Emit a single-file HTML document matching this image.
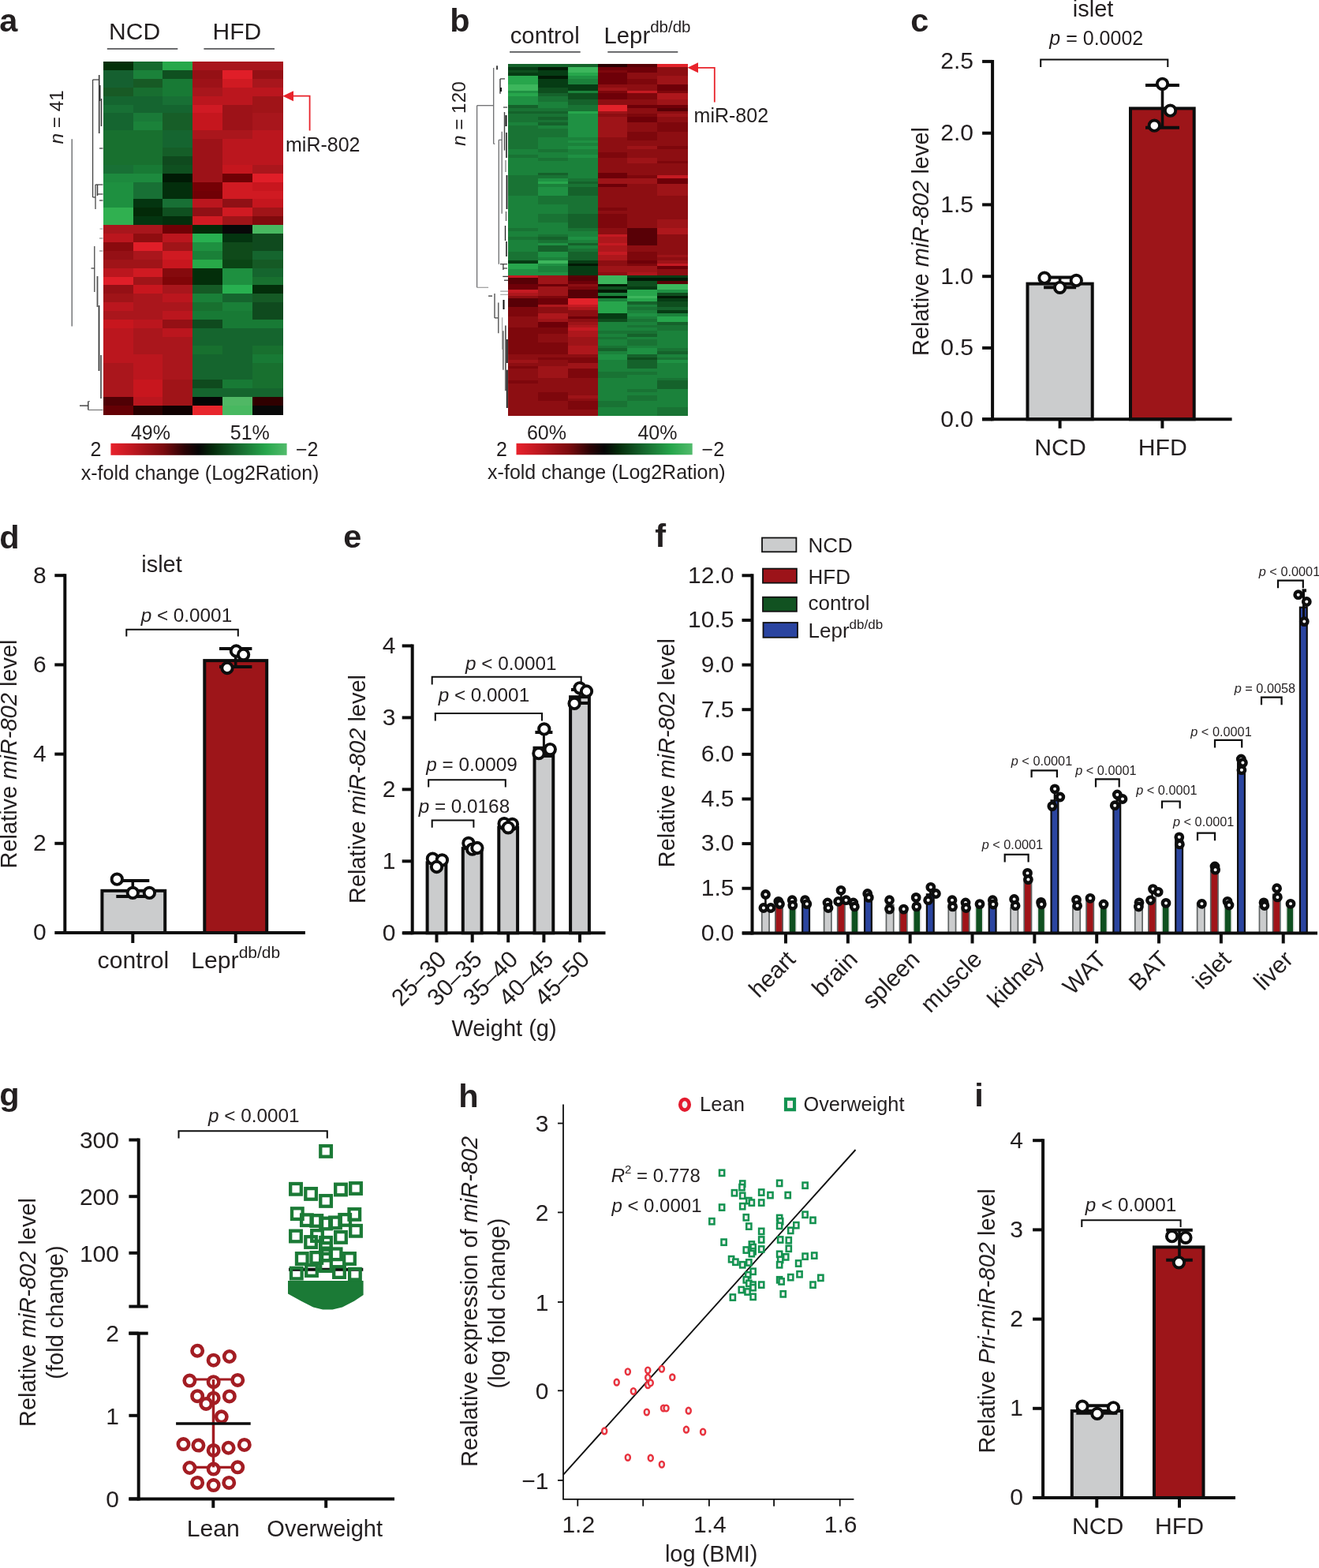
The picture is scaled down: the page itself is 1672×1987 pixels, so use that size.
<!DOCTYPE html>
<html><head><meta charset="utf-8"><title>Figure</title>
<style>html,body{margin:0;padding:0;background:#fff;}svg{display:block;}
text{font-family:"Liberation Sans",sans-serif;fill:#231f20;}</style></head>
<body><svg width="1672" height="1987" viewBox="0 0 1672 1987">
<rect width="1672" height="1987" fill="#fff"/>
<g shape-rendering="crispEdges">
<rect x="130.7" y="78" width="38.48" height="11.5" fill="#033008"/>
<rect x="168.58" y="78" width="38.48" height="11.5" fill="#156a2e"/>
<rect x="206.47" y="78" width="38.48" height="11.5" fill="#27a84a"/>
<rect x="244.35" y="78" width="38.48" height="11.5" fill="#a8161c"/>
<rect x="282.23" y="78" width="38.48" height="11.5" fill="#a8161c"/>
<rect x="320.12" y="78" width="38.48" height="11.5" fill="#a8161c"/>
<rect x="130.7" y="88.9" width="38.48" height="11.5" fill="#156030"/>
<rect x="168.58" y="88.9" width="38.48" height="11.5" fill="#1b823a"/>
<rect x="206.47" y="88.9" width="38.48" height="11.5" fill="#0f5020"/>
<rect x="244.35" y="88.9" width="38.48" height="11.5" fill="#951015"/>
<rect x="282.23" y="88.9" width="38.48" height="11.5" fill="#e01e28"/>
<rect x="320.12" y="88.9" width="38.48" height="11.5" fill="#951015"/>
<rect x="130.7" y="99.8" width="38.48" height="11.5" fill="#156030"/>
<rect x="168.58" y="99.8" width="38.48" height="11.5" fill="#175a25"/>
<rect x="206.47" y="99.8" width="38.48" height="11.5" fill="#187a35"/>
<rect x="244.35" y="99.8" width="38.48" height="11.5" fill="#9d1218"/>
<rect x="282.23" y="99.8" width="38.48" height="11.5" fill="#d01a22"/>
<rect x="320.12" y="99.8" width="38.48" height="11.5" fill="#a8161c"/>
<rect x="130.7" y="110.71" width="38.48" height="11.5" fill="#185a25"/>
<rect x="168.58" y="110.71" width="38.48" height="11.5" fill="#186e30"/>
<rect x="206.47" y="110.71" width="38.48" height="11.5" fill="#187a35"/>
<rect x="244.35" y="110.71" width="38.48" height="11.5" fill="#a8161c"/>
<rect x="282.23" y="110.71" width="38.48" height="11.5" fill="#bb161e"/>
<rect x="320.12" y="110.71" width="38.48" height="11.5" fill="#bb161e"/>
<rect x="130.7" y="121.61" width="38.48" height="11.5" fill="#156530"/>
<rect x="168.58" y="121.61" width="38.48" height="11.5" fill="#156530"/>
<rect x="206.47" y="121.61" width="38.48" height="11.5" fill="#187035"/>
<rect x="244.35" y="121.61" width="38.48" height="11.5" fill="#bb161e"/>
<rect x="282.23" y="121.61" width="38.48" height="11.5" fill="#bb161e"/>
<rect x="320.12" y="121.61" width="38.48" height="11.5" fill="#a01418"/>
<rect x="130.7" y="132.51" width="38.48" height="11.5" fill="#187035"/>
<rect x="168.58" y="132.51" width="38.48" height="11.5" fill="#156530"/>
<rect x="206.47" y="132.51" width="38.48" height="11.5" fill="#156530"/>
<rect x="244.35" y="132.51" width="38.48" height="11.5" fill="#d01a24"/>
<rect x="282.23" y="132.51" width="38.48" height="11.5" fill="#9d1218"/>
<rect x="320.12" y="132.51" width="38.48" height="11.5" fill="#a01418"/>
<rect x="130.7" y="143.41" width="38.48" height="11.5" fill="#156530"/>
<rect x="168.58" y="143.41" width="38.48" height="11.5" fill="#1a7a38"/>
<rect x="206.47" y="143.41" width="38.48" height="11.5" fill="#175e28"/>
<rect x="244.35" y="143.41" width="38.48" height="11.5" fill="#c5161e"/>
<rect x="282.23" y="143.41" width="38.48" height="11.5" fill="#9d1218"/>
<rect x="320.12" y="143.41" width="38.48" height="11.5" fill="#a8161c"/>
<rect x="130.7" y="154.32" width="38.48" height="11.5" fill="#156530"/>
<rect x="168.58" y="154.32" width="38.48" height="11.5" fill="#1b823a"/>
<rect x="206.47" y="154.32" width="38.48" height="11.5" fill="#175e28"/>
<rect x="244.35" y="154.32" width="38.48" height="11.5" fill="#c5161e"/>
<rect x="282.23" y="154.32" width="38.48" height="11.5" fill="#9d1218"/>
<rect x="320.12" y="154.32" width="38.48" height="11.5" fill="#a8161c"/>
<rect x="130.7" y="165.22" width="38.48" height="11.5" fill="#18702f"/>
<rect x="168.58" y="165.22" width="38.48" height="11.5" fill="#18702f"/>
<rect x="206.47" y="165.22" width="38.48" height="11.5" fill="#156530"/>
<rect x="244.35" y="165.22" width="38.48" height="11.5" fill="#aa161c"/>
<rect x="282.23" y="165.22" width="38.48" height="11.5" fill="#aa161c"/>
<rect x="320.12" y="165.22" width="38.48" height="11.5" fill="#bb161e"/>
<rect x="130.7" y="176.12" width="38.48" height="11.5" fill="#18702f"/>
<rect x="168.58" y="176.12" width="38.48" height="11.5" fill="#18702f"/>
<rect x="206.47" y="176.12" width="38.48" height="11.5" fill="#156530"/>
<rect x="244.35" y="176.12" width="38.48" height="11.5" fill="#9d1218"/>
<rect x="282.23" y="176.12" width="38.48" height="11.5" fill="#bb161e"/>
<rect x="320.12" y="176.12" width="38.48" height="11.5" fill="#bb161e"/>
<rect x="130.7" y="187.02" width="38.48" height="11.5" fill="#18702f"/>
<rect x="168.58" y="187.02" width="38.48" height="11.5" fill="#18702f"/>
<rect x="206.47" y="187.02" width="38.48" height="11.5" fill="#155e28"/>
<rect x="244.35" y="187.02" width="38.48" height="11.5" fill="#9d1218"/>
<rect x="282.23" y="187.02" width="38.48" height="11.5" fill="#bb161e"/>
<rect x="320.12" y="187.02" width="38.48" height="11.5" fill="#bb161e"/>
<rect x="130.7" y="197.93" width="38.48" height="11.5" fill="#18702f"/>
<rect x="168.58" y="197.93" width="38.48" height="11.5" fill="#18702f"/>
<rect x="206.47" y="197.93" width="38.48" height="11.5" fill="#0f4a1e"/>
<rect x="244.35" y="197.93" width="38.48" height="11.5" fill="#9d1218"/>
<rect x="282.23" y="197.93" width="38.48" height="11.5" fill="#bb161e"/>
<rect x="320.12" y="197.93" width="38.48" height="11.5" fill="#bb161e"/>
<rect x="130.7" y="208.83" width="38.48" height="11.5" fill="#187035"/>
<rect x="168.58" y="208.83" width="38.48" height="11.5" fill="#187a35"/>
<rect x="206.47" y="208.83" width="38.48" height="11.5" fill="#0f5020"/>
<rect x="244.35" y="208.83" width="38.48" height="11.5" fill="#9d1218"/>
<rect x="282.23" y="208.83" width="38.48" height="11.5" fill="#c5161e"/>
<rect x="320.12" y="208.83" width="38.48" height="11.5" fill="#aa161c"/>
<rect x="130.7" y="219.73" width="38.48" height="11.5" fill="#1d8a3e"/>
<rect x="168.58" y="219.73" width="38.48" height="11.5" fill="#1d8a3e"/>
<rect x="206.47" y="219.73" width="38.48" height="11.5" fill="#001a05"/>
<rect x="244.35" y="219.73" width="38.48" height="11.5" fill="#9d1218"/>
<rect x="282.23" y="219.73" width="38.48" height="11.5" fill="#700005"/>
<rect x="320.12" y="219.73" width="38.48" height="11.5" fill="#e01e28"/>
<rect x="130.7" y="230.63" width="38.48" height="11.5" fill="#1e9040"/>
<rect x="168.58" y="230.63" width="38.48" height="11.5" fill="#187035"/>
<rect x="206.47" y="230.63" width="38.48" height="11.5" fill="#032e0c"/>
<rect x="244.35" y="230.63" width="38.48" height="11.5" fill="#750005"/>
<rect x="282.23" y="230.63" width="38.48" height="11.5" fill="#d01a22"/>
<rect x="320.12" y="230.63" width="38.48" height="11.5" fill="#c8161e"/>
<rect x="130.7" y="241.54" width="38.48" height="11.5" fill="#1e9040"/>
<rect x="168.58" y="241.54" width="38.48" height="11.5" fill="#187035"/>
<rect x="206.47" y="241.54" width="38.48" height="11.5" fill="#032e0c"/>
<rect x="244.35" y="241.54" width="38.48" height="11.5" fill="#700005"/>
<rect x="282.23" y="241.54" width="38.48" height="11.5" fill="#d01a22"/>
<rect x="320.12" y="241.54" width="38.48" height="11.5" fill="#d01a22"/>
<rect x="130.7" y="252.44" width="38.48" height="11.5" fill="#1e9040"/>
<rect x="168.58" y="252.44" width="38.48" height="11.5" fill="#043510"/>
<rect x="206.47" y="252.44" width="38.48" height="11.5" fill="#187035"/>
<rect x="244.35" y="252.44" width="38.48" height="11.5" fill="#bb161e"/>
<rect x="282.23" y="252.44" width="38.48" height="11.5" fill="#901015"/>
<rect x="320.12" y="252.44" width="38.48" height="11.5" fill="#c5161e"/>
<rect x="130.7" y="263.34" width="38.48" height="11.5" fill="#30b050"/>
<rect x="168.58" y="263.34" width="38.48" height="11.5" fill="#032a08"/>
<rect x="206.47" y="263.34" width="38.48" height="11.5" fill="#0f5020"/>
<rect x="244.35" y="263.34" width="38.48" height="11.5" fill="#901015"/>
<rect x="282.23" y="263.34" width="38.48" height="11.5" fill="#d01a22"/>
<rect x="320.12" y="263.34" width="38.48" height="11.5" fill="#a01418"/>
<rect x="130.7" y="274.24" width="38.48" height="11.5" fill="#30b050"/>
<rect x="168.58" y="274.24" width="38.48" height="11.5" fill="#043510"/>
<rect x="206.47" y="274.24" width="38.48" height="11.5" fill="#032e0c"/>
<rect x="244.35" y="274.24" width="38.48" height="11.5" fill="#d01a22"/>
<rect x="282.23" y="274.24" width="38.48" height="11.5" fill="#a01418"/>
<rect x="320.12" y="274.24" width="38.48" height="11.5" fill="#800a0d"/>
<rect x="130.7" y="285.15" width="38.48" height="11.5" fill="#a8161c"/>
<rect x="168.58" y="285.15" width="38.48" height="11.5" fill="#a8161c"/>
<rect x="206.47" y="285.15" width="38.48" height="11.5" fill="#700005"/>
<rect x="244.35" y="285.15" width="38.48" height="11.5" fill="#032a08"/>
<rect x="282.23" y="285.15" width="38.48" height="11.5" fill="#080808"/>
<rect x="320.12" y="285.15" width="38.48" height="11.5" fill="#48b860"/>
<rect x="130.7" y="296.05" width="38.48" height="11.5" fill="#bb161e"/>
<rect x="168.58" y="296.05" width="38.48" height="11.5" fill="#8f0d10"/>
<rect x="206.47" y="296.05" width="38.48" height="11.5" fill="#bb161e"/>
<rect x="244.35" y="296.05" width="38.48" height="11.5" fill="#28b050"/>
<rect x="282.23" y="296.05" width="38.48" height="11.5" fill="#043510"/>
<rect x="320.12" y="296.05" width="38.48" height="11.5" fill="#0f4a1e"/>
<rect x="130.7" y="306.95" width="38.48" height="11.5" fill="#8a0a0e"/>
<rect x="168.58" y="306.95" width="38.48" height="11.5" fill="#e01e28"/>
<rect x="206.47" y="306.95" width="38.48" height="11.5" fill="#a01418"/>
<rect x="244.35" y="306.95" width="38.48" height="11.5" fill="#1e9040"/>
<rect x="282.23" y="306.95" width="38.48" height="11.5" fill="#0f4a1a"/>
<rect x="320.12" y="306.95" width="38.48" height="11.5" fill="#0f4a1e"/>
<rect x="130.7" y="317.85" width="38.48" height="11.5" fill="#951015"/>
<rect x="168.58" y="317.85" width="38.48" height="11.5" fill="#aa161c"/>
<rect x="206.47" y="317.85" width="38.48" height="11.5" fill="#d01a22"/>
<rect x="244.35" y="317.85" width="38.48" height="11.5" fill="#1a8038"/>
<rect x="282.23" y="317.85" width="38.48" height="11.5" fill="#0f4a1a"/>
<rect x="320.12" y="317.85" width="38.48" height="11.5" fill="#15652e"/>
<rect x="130.7" y="328.76" width="38.48" height="11.5" fill="#a01418"/>
<rect x="168.58" y="328.76" width="38.48" height="11.5" fill="#a01418"/>
<rect x="206.47" y="328.76" width="38.48" height="11.5" fill="#c8161e"/>
<rect x="244.35" y="328.76" width="38.48" height="11.5" fill="#28a848"/>
<rect x="282.23" y="328.76" width="38.48" height="11.5" fill="#0a4515"/>
<rect x="320.12" y="328.76" width="38.48" height="11.5" fill="#155a25"/>
<rect x="130.7" y="339.66" width="38.48" height="11.5" fill="#bb161e"/>
<rect x="168.58" y="339.66" width="38.48" height="11.5" fill="#d01a22"/>
<rect x="206.47" y="339.66" width="38.48" height="11.5" fill="#850a0d"/>
<rect x="244.35" y="339.66" width="38.48" height="11.5" fill="#032e0a"/>
<rect x="282.23" y="339.66" width="38.48" height="11.5" fill="#1e9040"/>
<rect x="320.12" y="339.66" width="38.48" height="11.5" fill="#15652e"/>
<rect x="130.7" y="350.56" width="38.48" height="11.5" fill="#e01e28"/>
<rect x="168.58" y="350.56" width="38.48" height="11.5" fill="#a01418"/>
<rect x="206.47" y="350.56" width="38.48" height="11.5" fill="#800508"/>
<rect x="244.35" y="350.56" width="38.48" height="11.5" fill="#032e0a"/>
<rect x="282.23" y="350.56" width="38.48" height="11.5" fill="#1e9040"/>
<rect x="320.12" y="350.56" width="38.48" height="11.5" fill="#18702f"/>
<rect x="130.7" y="361.46" width="38.48" height="11.5" fill="#951015"/>
<rect x="168.58" y="361.46" width="38.48" height="11.5" fill="#c8161e"/>
<rect x="206.47" y="361.46" width="38.48" height="11.5" fill="#a8161c"/>
<rect x="244.35" y="361.46" width="38.48" height="11.5" fill="#155a25"/>
<rect x="282.23" y="361.46" width="38.48" height="11.5" fill="#28b050"/>
<rect x="320.12" y="361.46" width="38.48" height="11.5" fill="#032e0a"/>
<rect x="130.7" y="372.37" width="38.48" height="11.5" fill="#a01418"/>
<rect x="168.58" y="372.37" width="38.48" height="11.5" fill="#aa161c"/>
<rect x="206.47" y="372.37" width="38.48" height="11.5" fill="#bb161e"/>
<rect x="244.35" y="372.37" width="38.48" height="11.5" fill="#1a8038"/>
<rect x="282.23" y="372.37" width="38.48" height="11.5" fill="#15652e"/>
<rect x="320.12" y="372.37" width="38.48" height="11.5" fill="#155a25"/>
<rect x="130.7" y="383.27" width="38.48" height="11.5" fill="#bb161e"/>
<rect x="168.58" y="383.27" width="38.48" height="11.5" fill="#aa161c"/>
<rect x="206.47" y="383.27" width="38.48" height="11.5" fill="#aa161c"/>
<rect x="244.35" y="383.27" width="38.48" height="11.5" fill="#18702f"/>
<rect x="282.23" y="383.27" width="38.48" height="11.5" fill="#1a8038"/>
<rect x="320.12" y="383.27" width="38.48" height="11.5" fill="#0f4a1e"/>
<rect x="130.7" y="394.17" width="38.48" height="11.5" fill="#aa161c"/>
<rect x="168.58" y="394.17" width="38.48" height="11.5" fill="#aa161c"/>
<rect x="206.47" y="394.17" width="38.48" height="11.5" fill="#bb161e"/>
<rect x="244.35" y="394.17" width="38.48" height="11.5" fill="#187a35"/>
<rect x="282.23" y="394.17" width="38.48" height="11.5" fill="#187a35"/>
<rect x="320.12" y="394.17" width="38.48" height="11.5" fill="#0f4a1e"/>
<rect x="130.7" y="405.07" width="38.48" height="11.5" fill="#c8161e"/>
<rect x="168.58" y="405.07" width="38.48" height="11.5" fill="#bb161e"/>
<rect x="206.47" y="405.07" width="38.48" height="11.5" fill="#951015"/>
<rect x="244.35" y="405.07" width="38.48" height="11.5" fill="#0f4a1e"/>
<rect x="282.23" y="405.07" width="38.48" height="11.5" fill="#187a35"/>
<rect x="320.12" y="405.07" width="38.48" height="11.5" fill="#187a35"/>
<rect x="130.7" y="415.98" width="38.48" height="11.5" fill="#bb161e"/>
<rect x="168.58" y="415.98" width="38.48" height="11.5" fill="#aa161c"/>
<rect x="206.47" y="415.98" width="38.48" height="11.5" fill="#bb161e"/>
<rect x="244.35" y="415.98" width="38.48" height="11.5" fill="#15652e"/>
<rect x="282.23" y="415.98" width="38.48" height="11.5" fill="#15652e"/>
<rect x="320.12" y="415.98" width="38.48" height="11.5" fill="#15652e"/>
<rect x="130.7" y="426.88" width="38.48" height="11.5" fill="#bb161e"/>
<rect x="168.58" y="426.88" width="38.48" height="11.5" fill="#aa161c"/>
<rect x="206.47" y="426.88" width="38.48" height="11.5" fill="#aa161c"/>
<rect x="244.35" y="426.88" width="38.48" height="11.5" fill="#15652e"/>
<rect x="282.23" y="426.88" width="38.48" height="11.5" fill="#15652e"/>
<rect x="320.12" y="426.88" width="38.48" height="11.5" fill="#15652e"/>
<rect x="130.7" y="437.78" width="38.48" height="11.5" fill="#bb161e"/>
<rect x="168.58" y="437.78" width="38.48" height="11.5" fill="#aa161c"/>
<rect x="206.47" y="437.78" width="38.48" height="11.5" fill="#aa161c"/>
<rect x="244.35" y="437.78" width="38.48" height="11.5" fill="#18702f"/>
<rect x="282.23" y="437.78" width="38.48" height="11.5" fill="#15652e"/>
<rect x="320.12" y="437.78" width="38.48" height="11.5" fill="#18702f"/>
<rect x="130.7" y="448.68" width="38.48" height="11.5" fill="#bb161e"/>
<rect x="168.58" y="448.68" width="38.48" height="11.5" fill="#bb161e"/>
<rect x="206.47" y="448.68" width="38.48" height="11.5" fill="#aa161c"/>
<rect x="244.35" y="448.68" width="38.48" height="11.5" fill="#15652e"/>
<rect x="282.23" y="448.68" width="38.48" height="11.5" fill="#15652e"/>
<rect x="320.12" y="448.68" width="38.48" height="11.5" fill="#187a35"/>
<rect x="130.7" y="459.59" width="38.48" height="11.5" fill="#aa161c"/>
<rect x="168.58" y="459.59" width="38.48" height="11.5" fill="#bb161e"/>
<rect x="206.47" y="459.59" width="38.48" height="11.5" fill="#aa161c"/>
<rect x="244.35" y="459.59" width="38.48" height="11.5" fill="#15652e"/>
<rect x="282.23" y="459.59" width="38.48" height="11.5" fill="#15652e"/>
<rect x="320.12" y="459.59" width="38.48" height="11.5" fill="#18702f"/>
<rect x="130.7" y="470.49" width="38.48" height="11.5" fill="#aa161c"/>
<rect x="168.58" y="470.49" width="38.48" height="11.5" fill="#bb161e"/>
<rect x="206.47" y="470.49" width="38.48" height="11.5" fill="#aa161c"/>
<rect x="244.35" y="470.49" width="38.48" height="11.5" fill="#15652e"/>
<rect x="282.23" y="470.49" width="38.48" height="11.5" fill="#15652e"/>
<rect x="320.12" y="470.49" width="38.48" height="11.5" fill="#18702f"/>
<rect x="130.7" y="481.39" width="38.48" height="11.5" fill="#aa161c"/>
<rect x="168.58" y="481.39" width="38.48" height="11.5" fill="#c8161e"/>
<rect x="206.47" y="481.39" width="38.48" height="11.5" fill="#a01418"/>
<rect x="244.35" y="481.39" width="38.48" height="11.5" fill="#0f4a1e"/>
<rect x="282.23" y="481.39" width="38.48" height="11.5" fill="#187a35"/>
<rect x="320.12" y="481.39" width="38.48" height="11.5" fill="#18702f"/>
<rect x="130.7" y="492.29" width="38.48" height="11.5" fill="#aa161c"/>
<rect x="168.58" y="492.29" width="38.48" height="11.5" fill="#c8161e"/>
<rect x="206.47" y="492.29" width="38.48" height="11.5" fill="#a01418"/>
<rect x="244.35" y="492.29" width="38.48" height="11.5" fill="#15652e"/>
<rect x="282.23" y="492.29" width="38.48" height="11.5" fill="#15652e"/>
<rect x="320.12" y="492.29" width="38.48" height="11.5" fill="#15652e"/>
<rect x="130.7" y="503.2" width="38.48" height="11.5" fill="#500005"/>
<rect x="168.58" y="503.2" width="38.48" height="11.5" fill="#bb161e"/>
<rect x="206.47" y="503.2" width="38.48" height="11.5" fill="#a01418"/>
<rect x="244.35" y="503.2" width="38.48" height="11.5" fill="#050505"/>
<rect x="282.23" y="503.2" width="38.48" height="11.5" fill="#50b865"/>
<rect x="320.12" y="503.2" width="38.48" height="11.5" fill="#300000"/>
<rect x="130.7" y="514.1" width="38.48" height="11.5" fill="#650005"/>
<rect x="168.58" y="514.1" width="38.48" height="11.5" fill="#2a0000"/>
<rect x="206.47" y="514.1" width="38.48" height="11.5" fill="#100000"/>
<rect x="244.35" y="514.1" width="38.48" height="11.5" fill="#e8262c"/>
<rect x="282.23" y="514.1" width="38.48" height="11.5" fill="#48b860"/>
<rect x="320.12" y="514.1" width="38.48" height="11.5" fill="#080808"/>
</g>
<g shape-rendering="crispEdges">
<rect x="644" y="81.1" width="38.47" height="4.31" fill="#15622b"/>
<rect x="681.87" y="81.1" width="38.47" height="4.31" fill="#15622b"/>
<rect x="719.73" y="81.1" width="38.47" height="4.31" fill="#15622b"/>
<rect x="757.6" y="81.1" width="38.47" height="4.31" fill="#2a0002"/>
<rect x="795.47" y="81.1" width="38.47" height="4.31" fill="#580006"/>
<rect x="833.33" y="81.1" width="38.47" height="4.31" fill="#e2222a"/>
<rect x="644" y="84.81" width="38.47" height="4.31" fill="#063c14"/>
<rect x="681.87" y="84.81" width="38.47" height="4.31" fill="#021a06"/>
<rect x="719.73" y="84.81" width="38.47" height="4.31" fill="#3cb65c"/>
<rect x="757.6" y="84.81" width="38.47" height="4.31" fill="#6e0008"/>
<rect x="795.47" y="84.81" width="38.47" height="4.31" fill="#6e0008"/>
<rect x="833.33" y="84.81" width="38.47" height="4.31" fill="#8d0e12"/>
<rect x="644" y="88.53" width="38.47" height="4.31" fill="#0e4e1e"/>
<rect x="681.87" y="88.53" width="38.47" height="4.31" fill="#063c14"/>
<rect x="719.73" y="88.53" width="38.47" height="4.31" fill="#3cb65c"/>
<rect x="757.6" y="88.53" width="38.47" height="4.31" fill="#7e070c"/>
<rect x="795.47" y="88.53" width="38.47" height="4.31" fill="#6e0008"/>
<rect x="833.33" y="88.53" width="38.47" height="4.31" fill="#8d0e12"/>
<rect x="644" y="92.24" width="38.47" height="4.31" fill="#063c14"/>
<rect x="681.87" y="92.24" width="38.47" height="4.31" fill="#063c14"/>
<rect x="719.73" y="92.24" width="38.47" height="4.31" fill="#27a64c"/>
<rect x="757.6" y="92.24" width="38.47" height="4.31" fill="#6e0008"/>
<rect x="795.47" y="92.24" width="38.47" height="4.31" fill="#8d0e12"/>
<rect x="833.33" y="92.24" width="38.47" height="4.31" fill="#8d0e12"/>
<rect x="644" y="95.96" width="38.47" height="4.31" fill="#27a64c"/>
<rect x="681.87" y="95.96" width="38.47" height="4.31" fill="#021a06"/>
<rect x="719.73" y="95.96" width="38.47" height="4.31" fill="#1f9143"/>
<rect x="757.6" y="95.96" width="38.47" height="4.31" fill="#6e0008"/>
<rect x="795.47" y="95.96" width="38.47" height="4.31" fill="#8d0e12"/>
<rect x="833.33" y="95.96" width="38.47" height="4.31" fill="#9e1418"/>
<rect x="644" y="99.67" width="38.47" height="4.31" fill="#27a64c"/>
<rect x="681.87" y="99.67" width="38.47" height="4.31" fill="#063c14"/>
<rect x="719.73" y="99.67" width="38.47" height="4.31" fill="#1b823b"/>
<rect x="757.6" y="99.67" width="38.47" height="4.31" fill="#6e0008"/>
<rect x="795.47" y="99.67" width="38.47" height="4.31" fill="#7e070c"/>
<rect x="833.33" y="99.67" width="38.47" height="4.31" fill="#9e1418"/>
<rect x="644" y="103.38" width="38.47" height="4.31" fill="#27a64c"/>
<rect x="681.87" y="103.38" width="38.47" height="4.31" fill="#063c14"/>
<rect x="719.73" y="103.38" width="38.47" height="4.31" fill="#1b823b"/>
<rect x="757.6" y="103.38" width="38.47" height="4.31" fill="#6e0008"/>
<rect x="795.47" y="103.38" width="38.47" height="4.31" fill="#7e070c"/>
<rect x="833.33" y="103.38" width="38.47" height="4.31" fill="#9e1418"/>
<rect x="644" y="107.1" width="38.47" height="4.31" fill="#3cb65c"/>
<rect x="681.87" y="107.1" width="38.47" height="4.31" fill="#063c14"/>
<rect x="719.73" y="107.1" width="38.47" height="4.31" fill="#063c14"/>
<rect x="757.6" y="107.1" width="38.47" height="4.31" fill="#8d0e12"/>
<rect x="795.47" y="107.1" width="38.47" height="4.31" fill="#8d0e12"/>
<rect x="833.33" y="107.1" width="38.47" height="4.31" fill="#6e0008"/>
<rect x="644" y="110.81" width="38.47" height="4.31" fill="#3cb65c"/>
<rect x="681.87" y="110.81" width="38.47" height="4.31" fill="#0e4e1e"/>
<rect x="719.73" y="110.81" width="38.47" height="4.31" fill="#063c14"/>
<rect x="757.6" y="110.81" width="38.47" height="4.31" fill="#9e1418"/>
<rect x="795.47" y="110.81" width="38.47" height="4.31" fill="#8d0e12"/>
<rect x="833.33" y="110.81" width="38.47" height="4.31" fill="#6e0008"/>
<rect x="644" y="114.53" width="38.47" height="4.31" fill="#1f9143"/>
<rect x="681.87" y="114.53" width="38.47" height="4.31" fill="#0e4e1e"/>
<rect x="719.73" y="114.53" width="38.47" height="4.31" fill="#1b823b"/>
<rect x="757.6" y="114.53" width="38.47" height="4.31" fill="#7e070c"/>
<rect x="795.47" y="114.53" width="38.47" height="4.31" fill="#c41a22"/>
<rect x="833.33" y="114.53" width="38.47" height="4.31" fill="#7e070c"/>
<rect x="644" y="118.24" width="38.47" height="4.31" fill="#27a64c"/>
<rect x="681.87" y="118.24" width="38.47" height="4.31" fill="#15622b"/>
<rect x="719.73" y="118.24" width="38.47" height="4.31" fill="#0e4e1e"/>
<rect x="757.6" y="118.24" width="38.47" height="4.31" fill="#6e0008"/>
<rect x="795.47" y="118.24" width="38.47" height="4.31" fill="#7e070c"/>
<rect x="833.33" y="118.24" width="38.47" height="4.31" fill="#ae171c"/>
<rect x="644" y="121.96" width="38.47" height="4.31" fill="#1f9143"/>
<rect x="681.87" y="121.96" width="38.47" height="4.31" fill="#197334"/>
<rect x="719.73" y="121.96" width="38.47" height="4.31" fill="#0e4e1e"/>
<rect x="757.6" y="121.96" width="38.47" height="4.31" fill="#6e0008"/>
<rect x="795.47" y="121.96" width="38.47" height="4.31" fill="#7e070c"/>
<rect x="833.33" y="121.96" width="38.47" height="4.31" fill="#ae171c"/>
<rect x="644" y="125.67" width="38.47" height="4.31" fill="#1f9143"/>
<rect x="681.87" y="125.67" width="38.47" height="4.31" fill="#197334"/>
<rect x="719.73" y="125.67" width="38.47" height="4.31" fill="#15622b"/>
<rect x="757.6" y="125.67" width="38.47" height="4.31" fill="#8d0e12"/>
<rect x="795.47" y="125.67" width="38.47" height="4.31" fill="#8d0e12"/>
<rect x="833.33" y="125.67" width="38.47" height="4.31" fill="#9e1418"/>
<rect x="644" y="129.38" width="38.47" height="4.31" fill="#1f9143"/>
<rect x="681.87" y="129.38" width="38.47" height="4.31" fill="#1b823b"/>
<rect x="719.73" y="129.38" width="38.47" height="4.31" fill="#15622b"/>
<rect x="757.6" y="129.38" width="38.47" height="4.31" fill="#8d0e12"/>
<rect x="795.47" y="129.38" width="38.47" height="4.31" fill="#8d0e12"/>
<rect x="833.33" y="129.38" width="38.47" height="4.31" fill="#9e1418"/>
<rect x="644" y="133.1" width="38.47" height="4.31" fill="#15622b"/>
<rect x="681.87" y="133.1" width="38.47" height="4.31" fill="#1b823b"/>
<rect x="719.73" y="133.1" width="38.47" height="4.31" fill="#197334"/>
<rect x="757.6" y="133.1" width="38.47" height="4.31" fill="#e2222a"/>
<rect x="795.47" y="133.1" width="38.47" height="4.31" fill="#6e0008"/>
<rect x="833.33" y="133.1" width="38.47" height="4.31" fill="#6e0008"/>
<rect x="644" y="136.81" width="38.47" height="4.31" fill="#197334"/>
<rect x="681.87" y="136.81" width="38.47" height="4.31" fill="#197334"/>
<rect x="719.73" y="136.81" width="38.47" height="4.31" fill="#197334"/>
<rect x="757.6" y="136.81" width="38.47" height="4.31" fill="#e2222a"/>
<rect x="795.47" y="136.81" width="38.47" height="4.31" fill="#8d0e12"/>
<rect x="833.33" y="136.81" width="38.47" height="4.31" fill="#580006"/>
<rect x="644" y="140.53" width="38.47" height="4.31" fill="#15622b"/>
<rect x="681.87" y="140.53" width="38.47" height="4.31" fill="#15622b"/>
<rect x="719.73" y="140.53" width="38.47" height="4.31" fill="#27a64c"/>
<rect x="757.6" y="140.53" width="38.47" height="4.31" fill="#9e1418"/>
<rect x="795.47" y="140.53" width="38.47" height="4.31" fill="#8d0e12"/>
<rect x="833.33" y="140.53" width="38.47" height="4.31" fill="#8d0e12"/>
<rect x="644" y="144.24" width="38.47" height="4.31" fill="#197334"/>
<rect x="681.87" y="144.24" width="38.47" height="4.31" fill="#197334"/>
<rect x="719.73" y="144.24" width="38.47" height="4.31" fill="#1f9143"/>
<rect x="757.6" y="144.24" width="38.47" height="4.31" fill="#8d0e12"/>
<rect x="795.47" y="144.24" width="38.47" height="4.31" fill="#7e070c"/>
<rect x="833.33" y="144.24" width="38.47" height="4.31" fill="#9e1418"/>
<rect x="644" y="147.95" width="38.47" height="4.31" fill="#197334"/>
<rect x="681.87" y="147.95" width="38.47" height="4.31" fill="#15622b"/>
<rect x="719.73" y="147.95" width="38.47" height="4.31" fill="#1f9143"/>
<rect x="757.6" y="147.95" width="38.47" height="4.31" fill="#9e1418"/>
<rect x="795.47" y="147.95" width="38.47" height="4.31" fill="#6e0008"/>
<rect x="833.33" y="147.95" width="38.47" height="4.31" fill="#8d0e12"/>
<rect x="644" y="151.67" width="38.47" height="4.31" fill="#197334"/>
<rect x="681.87" y="151.67" width="38.47" height="4.31" fill="#197334"/>
<rect x="719.73" y="151.67" width="38.47" height="4.31" fill="#1f9143"/>
<rect x="757.6" y="151.67" width="38.47" height="4.31" fill="#9e1418"/>
<rect x="795.47" y="151.67" width="38.47" height="4.31" fill="#6e0008"/>
<rect x="833.33" y="151.67" width="38.47" height="4.31" fill="#8d0e12"/>
<rect x="644" y="155.38" width="38.47" height="4.31" fill="#1b823b"/>
<rect x="681.87" y="155.38" width="38.47" height="4.31" fill="#15622b"/>
<rect x="719.73" y="155.38" width="38.47" height="4.31" fill="#1f9143"/>
<rect x="757.6" y="155.38" width="38.47" height="4.31" fill="#9e1418"/>
<rect x="795.47" y="155.38" width="38.47" height="4.31" fill="#8d0e12"/>
<rect x="833.33" y="155.38" width="38.47" height="4.31" fill="#7e070c"/>
<rect x="644" y="159.1" width="38.47" height="4.31" fill="#197334"/>
<rect x="681.87" y="159.1" width="38.47" height="4.31" fill="#1b823b"/>
<rect x="719.73" y="159.1" width="38.47" height="4.31" fill="#1f9143"/>
<rect x="757.6" y="159.1" width="38.47" height="4.31" fill="#9e1418"/>
<rect x="795.47" y="159.1" width="38.47" height="4.31" fill="#8d0e12"/>
<rect x="833.33" y="159.1" width="38.47" height="4.31" fill="#7e070c"/>
<rect x="644" y="162.81" width="38.47" height="4.31" fill="#197334"/>
<rect x="681.87" y="162.81" width="38.47" height="4.31" fill="#197334"/>
<rect x="719.73" y="162.81" width="38.47" height="4.31" fill="#1f9143"/>
<rect x="757.6" y="162.81" width="38.47" height="4.31" fill="#9e1418"/>
<rect x="795.47" y="162.81" width="38.47" height="4.31" fill="#8d0e12"/>
<rect x="833.33" y="162.81" width="38.47" height="4.31" fill="#7e070c"/>
<rect x="644" y="166.53" width="38.47" height="4.31" fill="#197334"/>
<rect x="681.87" y="166.53" width="38.47" height="4.31" fill="#197334"/>
<rect x="719.73" y="166.53" width="38.47" height="4.31" fill="#1f9143"/>
<rect x="757.6" y="166.53" width="38.47" height="4.31" fill="#9e1418"/>
<rect x="795.47" y="166.53" width="38.47" height="4.31" fill="#7e070c"/>
<rect x="833.33" y="166.53" width="38.47" height="4.31" fill="#8d0e12"/>
<rect x="644" y="170.24" width="38.47" height="4.31" fill="#197334"/>
<rect x="681.87" y="170.24" width="38.47" height="4.31" fill="#197334"/>
<rect x="719.73" y="170.24" width="38.47" height="4.31" fill="#1f9143"/>
<rect x="757.6" y="170.24" width="38.47" height="4.31" fill="#9e1418"/>
<rect x="795.47" y="170.24" width="38.47" height="4.31" fill="#7e070c"/>
<rect x="833.33" y="170.24" width="38.47" height="4.31" fill="#8d0e12"/>
<rect x="644" y="173.95" width="38.47" height="4.31" fill="#197334"/>
<rect x="681.87" y="173.95" width="38.47" height="4.31" fill="#1b823b"/>
<rect x="719.73" y="173.95" width="38.47" height="4.31" fill="#1b823b"/>
<rect x="757.6" y="173.95" width="38.47" height="4.31" fill="#8d0e12"/>
<rect x="795.47" y="173.95" width="38.47" height="4.31" fill="#7e070c"/>
<rect x="833.33" y="173.95" width="38.47" height="4.31" fill="#8d0e12"/>
<rect x="644" y="177.67" width="38.47" height="4.31" fill="#197334"/>
<rect x="681.87" y="177.67" width="38.47" height="4.31" fill="#1b823b"/>
<rect x="719.73" y="177.67" width="38.47" height="4.31" fill="#1f9143"/>
<rect x="757.6" y="177.67" width="38.47" height="4.31" fill="#8d0e12"/>
<rect x="795.47" y="177.67" width="38.47" height="4.31" fill="#8d0e12"/>
<rect x="833.33" y="177.67" width="38.47" height="4.31" fill="#8d0e12"/>
<rect x="644" y="181.38" width="38.47" height="4.31" fill="#197334"/>
<rect x="681.87" y="181.38" width="38.47" height="4.31" fill="#1b823b"/>
<rect x="719.73" y="181.38" width="38.47" height="4.31" fill="#1b823b"/>
<rect x="757.6" y="181.38" width="38.47" height="4.31" fill="#8d0e12"/>
<rect x="795.47" y="181.38" width="38.47" height="4.31" fill="#8d0e12"/>
<rect x="833.33" y="181.38" width="38.47" height="4.31" fill="#8d0e12"/>
<rect x="644" y="185.1" width="38.47" height="4.31" fill="#197334"/>
<rect x="681.87" y="185.1" width="38.47" height="4.31" fill="#1b823b"/>
<rect x="719.73" y="185.1" width="38.47" height="4.31" fill="#1f9143"/>
<rect x="757.6" y="185.1" width="38.47" height="4.31" fill="#8d0e12"/>
<rect x="795.47" y="185.1" width="38.47" height="4.31" fill="#9e1418"/>
<rect x="833.33" y="185.1" width="38.47" height="4.31" fill="#7e070c"/>
<rect x="644" y="188.81" width="38.47" height="4.31" fill="#1b823b"/>
<rect x="681.87" y="188.81" width="38.47" height="4.31" fill="#197334"/>
<rect x="719.73" y="188.81" width="38.47" height="4.31" fill="#1b823b"/>
<rect x="757.6" y="188.81" width="38.47" height="4.31" fill="#8d0e12"/>
<rect x="795.47" y="188.81" width="38.47" height="4.31" fill="#8d0e12"/>
<rect x="833.33" y="188.81" width="38.47" height="4.31" fill="#8d0e12"/>
<rect x="644" y="192.52" width="38.47" height="4.31" fill="#1b823b"/>
<rect x="681.87" y="192.52" width="38.47" height="4.31" fill="#1b823b"/>
<rect x="719.73" y="192.52" width="38.47" height="4.31" fill="#1b823b"/>
<rect x="757.6" y="192.52" width="38.47" height="4.31" fill="#7e070c"/>
<rect x="795.47" y="192.52" width="38.47" height="4.31" fill="#8d0e12"/>
<rect x="833.33" y="192.52" width="38.47" height="4.31" fill="#8d0e12"/>
<rect x="644" y="196.24" width="38.47" height="4.31" fill="#197334"/>
<rect x="681.87" y="196.24" width="38.47" height="4.31" fill="#1b823b"/>
<rect x="719.73" y="196.24" width="38.47" height="4.31" fill="#1f9143"/>
<rect x="757.6" y="196.24" width="38.47" height="4.31" fill="#7e070c"/>
<rect x="795.47" y="196.24" width="38.47" height="4.31" fill="#8d0e12"/>
<rect x="833.33" y="196.24" width="38.47" height="4.31" fill="#8d0e12"/>
<rect x="644" y="199.95" width="38.47" height="4.31" fill="#1b823b"/>
<rect x="681.87" y="199.95" width="38.47" height="4.31" fill="#197334"/>
<rect x="719.73" y="199.95" width="38.47" height="4.31" fill="#1b823b"/>
<rect x="757.6" y="199.95" width="38.47" height="4.31" fill="#8d0e12"/>
<rect x="795.47" y="199.95" width="38.47" height="4.31" fill="#9e1418"/>
<rect x="833.33" y="199.95" width="38.47" height="4.31" fill="#8d0e12"/>
<rect x="644" y="203.67" width="38.47" height="4.31" fill="#1b823b"/>
<rect x="681.87" y="203.67" width="38.47" height="4.31" fill="#1b823b"/>
<rect x="719.73" y="203.67" width="38.47" height="4.31" fill="#1b823b"/>
<rect x="757.6" y="203.67" width="38.47" height="4.31" fill="#8d0e12"/>
<rect x="795.47" y="203.67" width="38.47" height="4.31" fill="#9e1418"/>
<rect x="833.33" y="203.67" width="38.47" height="4.31" fill="#7e070c"/>
<rect x="644" y="207.38" width="38.47" height="4.31" fill="#1b823b"/>
<rect x="681.87" y="207.38" width="38.47" height="4.31" fill="#1b823b"/>
<rect x="719.73" y="207.38" width="38.47" height="4.31" fill="#1b823b"/>
<rect x="757.6" y="207.38" width="38.47" height="4.31" fill="#8d0e12"/>
<rect x="795.47" y="207.38" width="38.47" height="4.31" fill="#8d0e12"/>
<rect x="833.33" y="207.38" width="38.47" height="4.31" fill="#8d0e12"/>
<rect x="644" y="211.1" width="38.47" height="4.31" fill="#1b823b"/>
<rect x="681.87" y="211.1" width="38.47" height="4.31" fill="#1b823b"/>
<rect x="719.73" y="211.1" width="38.47" height="4.31" fill="#1b823b"/>
<rect x="757.6" y="211.1" width="38.47" height="4.31" fill="#8d0e12"/>
<rect x="795.47" y="211.1" width="38.47" height="4.31" fill="#8d0e12"/>
<rect x="833.33" y="211.1" width="38.47" height="4.31" fill="#8d0e12"/>
<rect x="644" y="214.81" width="38.47" height="4.31" fill="#1b823b"/>
<rect x="681.87" y="214.81" width="38.47" height="4.31" fill="#1b823b"/>
<rect x="719.73" y="214.81" width="38.47" height="4.31" fill="#1b823b"/>
<rect x="757.6" y="214.81" width="38.47" height="4.31" fill="#8d0e12"/>
<rect x="795.47" y="214.81" width="38.47" height="4.31" fill="#8d0e12"/>
<rect x="833.33" y="214.81" width="38.47" height="4.31" fill="#8d0e12"/>
<rect x="644" y="218.52" width="38.47" height="4.31" fill="#1b823b"/>
<rect x="681.87" y="218.52" width="38.47" height="4.31" fill="#15622b"/>
<rect x="719.73" y="218.52" width="38.47" height="4.31" fill="#1b823b"/>
<rect x="757.6" y="218.52" width="38.47" height="4.31" fill="#6e0008"/>
<rect x="795.47" y="218.52" width="38.47" height="4.31" fill="#8d0e12"/>
<rect x="833.33" y="218.52" width="38.47" height="4.31" fill="#8d0e12"/>
<rect x="644" y="222.24" width="38.47" height="4.31" fill="#197334"/>
<rect x="681.87" y="222.24" width="38.47" height="4.31" fill="#197334"/>
<rect x="719.73" y="222.24" width="38.47" height="4.31" fill="#1b823b"/>
<rect x="757.6" y="222.24" width="38.47" height="4.31" fill="#6e0008"/>
<rect x="795.47" y="222.24" width="38.47" height="4.31" fill="#7e070c"/>
<rect x="833.33" y="222.24" width="38.47" height="4.31" fill="#c41a22"/>
<rect x="644" y="225.95" width="38.47" height="4.31" fill="#197334"/>
<rect x="681.87" y="225.95" width="38.47" height="4.31" fill="#1f9143"/>
<rect x="719.73" y="225.95" width="38.47" height="4.31" fill="#197334"/>
<rect x="757.6" y="225.95" width="38.47" height="4.31" fill="#9e1418"/>
<rect x="795.47" y="225.95" width="38.47" height="4.31" fill="#9e1418"/>
<rect x="833.33" y="225.95" width="38.47" height="4.31" fill="#6e0008"/>
<rect x="644" y="229.67" width="38.47" height="4.31" fill="#197334"/>
<rect x="681.87" y="229.67" width="38.47" height="4.31" fill="#27a64c"/>
<rect x="719.73" y="229.67" width="38.47" height="4.31" fill="#15622b"/>
<rect x="757.6" y="229.67" width="38.47" height="4.31" fill="#9e1418"/>
<rect x="795.47" y="229.67" width="38.47" height="4.31" fill="#9e1418"/>
<rect x="833.33" y="229.67" width="38.47" height="4.31" fill="#6e0008"/>
<rect x="644" y="233.38" width="38.47" height="4.31" fill="#197334"/>
<rect x="681.87" y="233.38" width="38.47" height="4.31" fill="#1b823b"/>
<rect x="719.73" y="233.38" width="38.47" height="4.31" fill="#197334"/>
<rect x="757.6" y="233.38" width="38.47" height="4.31" fill="#6e0008"/>
<rect x="795.47" y="233.38" width="38.47" height="4.31" fill="#8d0e12"/>
<rect x="833.33" y="233.38" width="38.47" height="4.31" fill="#9e1418"/>
<rect x="644" y="237.09" width="38.47" height="4.31" fill="#197334"/>
<rect x="681.87" y="237.09" width="38.47" height="4.31" fill="#1f9143"/>
<rect x="719.73" y="237.09" width="38.47" height="4.31" fill="#15622b"/>
<rect x="757.6" y="237.09" width="38.47" height="4.31" fill="#8d0e12"/>
<rect x="795.47" y="237.09" width="38.47" height="4.31" fill="#8d0e12"/>
<rect x="833.33" y="237.09" width="38.47" height="4.31" fill="#9e1418"/>
<rect x="644" y="240.81" width="38.47" height="4.31" fill="#197334"/>
<rect x="681.87" y="240.81" width="38.47" height="4.31" fill="#1f9143"/>
<rect x="719.73" y="240.81" width="38.47" height="4.31" fill="#15622b"/>
<rect x="757.6" y="240.81" width="38.47" height="4.31" fill="#8d0e12"/>
<rect x="795.47" y="240.81" width="38.47" height="4.31" fill="#8d0e12"/>
<rect x="833.33" y="240.81" width="38.47" height="4.31" fill="#9e1418"/>
<rect x="644" y="244.52" width="38.47" height="4.31" fill="#197334"/>
<rect x="681.87" y="244.52" width="38.47" height="4.31" fill="#1f9143"/>
<rect x="719.73" y="244.52" width="38.47" height="4.31" fill="#15622b"/>
<rect x="757.6" y="244.52" width="38.47" height="4.31" fill="#8d0e12"/>
<rect x="795.47" y="244.52" width="38.47" height="4.31" fill="#8d0e12"/>
<rect x="833.33" y="244.52" width="38.47" height="4.31" fill="#9e1418"/>
<rect x="644" y="248.24" width="38.47" height="4.31" fill="#1b823b"/>
<rect x="681.87" y="248.24" width="38.47" height="4.31" fill="#197334"/>
<rect x="719.73" y="248.24" width="38.47" height="4.31" fill="#197334"/>
<rect x="757.6" y="248.24" width="38.47" height="4.31" fill="#8d0e12"/>
<rect x="795.47" y="248.24" width="38.47" height="4.31" fill="#8d0e12"/>
<rect x="833.33" y="248.24" width="38.47" height="4.31" fill="#8d0e12"/>
<rect x="644" y="251.95" width="38.47" height="4.31" fill="#1b823b"/>
<rect x="681.87" y="251.95" width="38.47" height="4.31" fill="#197334"/>
<rect x="719.73" y="251.95" width="38.47" height="4.31" fill="#197334"/>
<rect x="757.6" y="251.95" width="38.47" height="4.31" fill="#8d0e12"/>
<rect x="795.47" y="251.95" width="38.47" height="4.31" fill="#8d0e12"/>
<rect x="833.33" y="251.95" width="38.47" height="4.31" fill="#8d0e12"/>
<rect x="644" y="255.67" width="38.47" height="4.31" fill="#1b823b"/>
<rect x="681.87" y="255.67" width="38.47" height="4.31" fill="#197334"/>
<rect x="719.73" y="255.67" width="38.47" height="4.31" fill="#197334"/>
<rect x="757.6" y="255.67" width="38.47" height="4.31" fill="#8d0e12"/>
<rect x="795.47" y="255.67" width="38.47" height="4.31" fill="#8d0e12"/>
<rect x="833.33" y="255.67" width="38.47" height="4.31" fill="#8d0e12"/>
<rect x="644" y="259.38" width="38.47" height="4.31" fill="#1b823b"/>
<rect x="681.87" y="259.38" width="38.47" height="4.31" fill="#1b823b"/>
<rect x="719.73" y="259.38" width="38.47" height="4.31" fill="#197334"/>
<rect x="757.6" y="259.38" width="38.47" height="4.31" fill="#8d0e12"/>
<rect x="795.47" y="259.38" width="38.47" height="4.31" fill="#8d0e12"/>
<rect x="833.33" y="259.38" width="38.47" height="4.31" fill="#8d0e12"/>
<rect x="644" y="263.09" width="38.47" height="4.31" fill="#1b823b"/>
<rect x="681.87" y="263.09" width="38.47" height="4.31" fill="#1b823b"/>
<rect x="719.73" y="263.09" width="38.47" height="4.31" fill="#197334"/>
<rect x="757.6" y="263.09" width="38.47" height="4.31" fill="#7e070c"/>
<rect x="795.47" y="263.09" width="38.47" height="4.31" fill="#8d0e12"/>
<rect x="833.33" y="263.09" width="38.47" height="4.31" fill="#8d0e12"/>
<rect x="644" y="266.81" width="38.47" height="4.31" fill="#1b823b"/>
<rect x="681.87" y="266.81" width="38.47" height="4.31" fill="#1b823b"/>
<rect x="719.73" y="266.81" width="38.47" height="4.31" fill="#197334"/>
<rect x="757.6" y="266.81" width="38.47" height="4.31" fill="#8d0e12"/>
<rect x="795.47" y="266.81" width="38.47" height="4.31" fill="#8d0e12"/>
<rect x="833.33" y="266.81" width="38.47" height="4.31" fill="#8d0e12"/>
<rect x="644" y="270.52" width="38.47" height="4.31" fill="#1b823b"/>
<rect x="681.87" y="270.52" width="38.47" height="4.31" fill="#197334"/>
<rect x="719.73" y="270.52" width="38.47" height="4.31" fill="#15622b"/>
<rect x="757.6" y="270.52" width="38.47" height="4.31" fill="#7e070c"/>
<rect x="795.47" y="270.52" width="38.47" height="4.31" fill="#8d0e12"/>
<rect x="833.33" y="270.52" width="38.47" height="4.31" fill="#8d0e12"/>
<rect x="644" y="274.24" width="38.47" height="4.31" fill="#1b823b"/>
<rect x="681.87" y="274.24" width="38.47" height="4.31" fill="#197334"/>
<rect x="719.73" y="274.24" width="38.47" height="4.31" fill="#15622b"/>
<rect x="757.6" y="274.24" width="38.47" height="4.31" fill="#7e070c"/>
<rect x="795.47" y="274.24" width="38.47" height="4.31" fill="#8d0e12"/>
<rect x="833.33" y="274.24" width="38.47" height="4.31" fill="#8d0e12"/>
<rect x="644" y="277.95" width="38.47" height="4.31" fill="#1b823b"/>
<rect x="681.87" y="277.95" width="38.47" height="4.31" fill="#197334"/>
<rect x="719.73" y="277.95" width="38.47" height="4.31" fill="#15622b"/>
<rect x="757.6" y="277.95" width="38.47" height="4.31" fill="#7e070c"/>
<rect x="795.47" y="277.95" width="38.47" height="4.31" fill="#8d0e12"/>
<rect x="833.33" y="277.95" width="38.47" height="4.31" fill="#9e1418"/>
<rect x="644" y="281.66" width="38.47" height="4.31" fill="#1b823b"/>
<rect x="681.87" y="281.66" width="38.47" height="4.31" fill="#1b823b"/>
<rect x="719.73" y="281.66" width="38.47" height="4.31" fill="#15622b"/>
<rect x="757.6" y="281.66" width="38.47" height="4.31" fill="#7e070c"/>
<rect x="795.47" y="281.66" width="38.47" height="4.31" fill="#8d0e12"/>
<rect x="833.33" y="281.66" width="38.47" height="4.31" fill="#9e1418"/>
<rect x="644" y="285.38" width="38.47" height="4.31" fill="#1b823b"/>
<rect x="681.87" y="285.38" width="38.47" height="4.31" fill="#1b823b"/>
<rect x="719.73" y="285.38" width="38.47" height="4.31" fill="#15622b"/>
<rect x="757.6" y="285.38" width="38.47" height="4.31" fill="#7e070c"/>
<rect x="795.47" y="285.38" width="38.47" height="4.31" fill="#8d0e12"/>
<rect x="833.33" y="285.38" width="38.47" height="4.31" fill="#9e1418"/>
<rect x="644" y="289.09" width="38.47" height="4.31" fill="#197334"/>
<rect x="681.87" y="289.09" width="38.47" height="4.31" fill="#1b823b"/>
<rect x="719.73" y="289.09" width="38.47" height="4.31" fill="#197334"/>
<rect x="757.6" y="289.09" width="38.47" height="4.31" fill="#8d0e12"/>
<rect x="795.47" y="289.09" width="38.47" height="4.31" fill="#580006"/>
<rect x="833.33" y="289.09" width="38.47" height="4.31" fill="#ae171c"/>
<rect x="644" y="292.81" width="38.47" height="4.31" fill="#1b823b"/>
<rect x="681.87" y="292.81" width="38.47" height="4.31" fill="#1b823b"/>
<rect x="719.73" y="292.81" width="38.47" height="4.31" fill="#1b823b"/>
<rect x="757.6" y="292.81" width="38.47" height="4.31" fill="#8d0e12"/>
<rect x="795.47" y="292.81" width="38.47" height="4.31" fill="#580006"/>
<rect x="833.33" y="292.81" width="38.47" height="4.31" fill="#ae171c"/>
<rect x="644" y="296.52" width="38.47" height="4.31" fill="#1b823b"/>
<rect x="681.87" y="296.52" width="38.47" height="4.31" fill="#197334"/>
<rect x="719.73" y="296.52" width="38.47" height="4.31" fill="#1b823b"/>
<rect x="757.6" y="296.52" width="38.47" height="4.31" fill="#c41a22"/>
<rect x="795.47" y="296.52" width="38.47" height="4.31" fill="#580006"/>
<rect x="833.33" y="296.52" width="38.47" height="4.31" fill="#8d0e12"/>
<rect x="644" y="300.24" width="38.47" height="4.31" fill="#197334"/>
<rect x="681.87" y="300.24" width="38.47" height="4.31" fill="#15622b"/>
<rect x="719.73" y="300.24" width="38.47" height="4.31" fill="#1f9143"/>
<rect x="757.6" y="300.24" width="38.47" height="4.31" fill="#ae171c"/>
<rect x="795.47" y="300.24" width="38.47" height="4.31" fill="#580006"/>
<rect x="833.33" y="300.24" width="38.47" height="4.31" fill="#8d0e12"/>
<rect x="644" y="303.95" width="38.47" height="4.31" fill="#1b823b"/>
<rect x="681.87" y="303.95" width="38.47" height="4.31" fill="#197334"/>
<rect x="719.73" y="303.95" width="38.47" height="4.31" fill="#1b823b"/>
<rect x="757.6" y="303.95" width="38.47" height="4.31" fill="#ae171c"/>
<rect x="795.47" y="303.95" width="38.47" height="4.31" fill="#580006"/>
<rect x="833.33" y="303.95" width="38.47" height="4.31" fill="#8d0e12"/>
<rect x="644" y="307.66" width="38.47" height="4.31" fill="#1b823b"/>
<rect x="681.87" y="307.66" width="38.47" height="4.31" fill="#1f9143"/>
<rect x="719.73" y="307.66" width="38.47" height="4.31" fill="#15622b"/>
<rect x="757.6" y="307.66" width="38.47" height="4.31" fill="#c41a22"/>
<rect x="795.47" y="307.66" width="38.47" height="4.31" fill="#580006"/>
<rect x="833.33" y="307.66" width="38.47" height="4.31" fill="#8d0e12"/>
<rect x="644" y="311.38" width="38.47" height="4.31" fill="#1b823b"/>
<rect x="681.87" y="311.38" width="38.47" height="4.31" fill="#15622b"/>
<rect x="719.73" y="311.38" width="38.47" height="4.31" fill="#1b823b"/>
<rect x="757.6" y="311.38" width="38.47" height="4.31" fill="#ae171c"/>
<rect x="795.47" y="311.38" width="38.47" height="4.31" fill="#8d0e12"/>
<rect x="833.33" y="311.38" width="38.47" height="4.31" fill="#8d0e12"/>
<rect x="644" y="315.09" width="38.47" height="4.31" fill="#1b823b"/>
<rect x="681.87" y="315.09" width="38.47" height="4.31" fill="#15622b"/>
<rect x="719.73" y="315.09" width="38.47" height="4.31" fill="#197334"/>
<rect x="757.6" y="315.09" width="38.47" height="4.31" fill="#ae171c"/>
<rect x="795.47" y="315.09" width="38.47" height="4.31" fill="#8d0e12"/>
<rect x="833.33" y="315.09" width="38.47" height="4.31" fill="#8d0e12"/>
<rect x="644" y="318.81" width="38.47" height="4.31" fill="#197334"/>
<rect x="681.87" y="318.81" width="38.47" height="4.31" fill="#1f9143"/>
<rect x="719.73" y="318.81" width="38.47" height="4.31" fill="#15622b"/>
<rect x="757.6" y="318.81" width="38.47" height="4.31" fill="#c41a22"/>
<rect x="795.47" y="318.81" width="38.47" height="4.31" fill="#7e070c"/>
<rect x="833.33" y="318.81" width="38.47" height="4.31" fill="#8d0e12"/>
<rect x="644" y="322.52" width="38.47" height="4.31" fill="#197334"/>
<rect x="681.87" y="322.52" width="38.47" height="4.31" fill="#1f9143"/>
<rect x="719.73" y="322.52" width="38.47" height="4.31" fill="#15622b"/>
<rect x="757.6" y="322.52" width="38.47" height="4.31" fill="#ae171c"/>
<rect x="795.47" y="322.52" width="38.47" height="4.31" fill="#7e070c"/>
<rect x="833.33" y="322.52" width="38.47" height="4.31" fill="#9e1418"/>
<rect x="644" y="326.24" width="38.47" height="4.31" fill="#197334"/>
<rect x="681.87" y="326.24" width="38.47" height="4.31" fill="#1b823b"/>
<rect x="719.73" y="326.24" width="38.47" height="4.31" fill="#15622b"/>
<rect x="757.6" y="326.24" width="38.47" height="4.31" fill="#ae171c"/>
<rect x="795.47" y="326.24" width="38.47" height="4.31" fill="#7e070c"/>
<rect x="833.33" y="326.24" width="38.47" height="4.31" fill="#8d0e12"/>
<rect x="644" y="329.95" width="38.47" height="4.31" fill="#063c14"/>
<rect x="681.87" y="329.95" width="38.47" height="4.31" fill="#3cb65c"/>
<rect x="719.73" y="329.95" width="38.47" height="4.31" fill="#063c14"/>
<rect x="757.6" y="329.95" width="38.47" height="4.31" fill="#8d0e12"/>
<rect x="795.47" y="329.95" width="38.47" height="4.31" fill="#6e0008"/>
<rect x="833.33" y="329.95" width="38.47" height="4.31" fill="#9e1418"/>
<rect x="644" y="333.66" width="38.47" height="4.31" fill="#27a64c"/>
<rect x="681.87" y="333.66" width="38.47" height="4.31" fill="#1f9143"/>
<rect x="719.73" y="333.66" width="38.47" height="4.31" fill="#021a06"/>
<rect x="757.6" y="333.66" width="38.47" height="4.31" fill="#8d0e12"/>
<rect x="795.47" y="333.66" width="38.47" height="4.31" fill="#7e070c"/>
<rect x="833.33" y="333.66" width="38.47" height="4.31" fill="#c41a22"/>
<rect x="644" y="337.38" width="38.47" height="4.31" fill="#27a64c"/>
<rect x="681.87" y="337.38" width="38.47" height="4.31" fill="#1b823b"/>
<rect x="719.73" y="337.38" width="38.47" height="4.31" fill="#063c14"/>
<rect x="757.6" y="337.38" width="38.47" height="4.31" fill="#9e1418"/>
<rect x="795.47" y="337.38" width="38.47" height="4.31" fill="#9e1418"/>
<rect x="833.33" y="337.38" width="38.47" height="4.31" fill="#6e0008"/>
<rect x="644" y="341.09" width="38.47" height="4.31" fill="#1f9143"/>
<rect x="681.87" y="341.09" width="38.47" height="4.31" fill="#1b823b"/>
<rect x="719.73" y="341.09" width="38.47" height="4.31" fill="#063c14"/>
<rect x="757.6" y="341.09" width="38.47" height="4.31" fill="#9e1418"/>
<rect x="795.47" y="341.09" width="38.47" height="4.31" fill="#9e1418"/>
<rect x="833.33" y="341.09" width="38.47" height="4.31" fill="#8d0e12"/>
<rect x="644" y="344.81" width="38.47" height="4.31" fill="#1f9143"/>
<rect x="681.87" y="344.81" width="38.47" height="4.31" fill="#1f9143"/>
<rect x="719.73" y="344.81" width="38.47" height="4.31" fill="#063c14"/>
<rect x="757.6" y="344.81" width="38.47" height="4.31" fill="#8d0e12"/>
<rect x="795.47" y="344.81" width="38.47" height="4.31" fill="#ae171c"/>
<rect x="833.33" y="344.81" width="38.47" height="4.31" fill="#8d0e12"/>
<rect x="644" y="348.52" width="38.47" height="4.31" fill="#c41a22"/>
<rect x="681.87" y="348.52" width="38.47" height="4.31" fill="#9e1418"/>
<rect x="719.73" y="348.52" width="38.47" height="4.31" fill="#580006"/>
<rect x="757.6" y="348.52" width="38.47" height="4.31" fill="#3cb65c"/>
<rect x="795.47" y="348.52" width="38.47" height="4.31" fill="#063c14"/>
<rect x="833.33" y="348.52" width="38.47" height="4.31" fill="#063c14"/>
<rect x="644" y="352.23" width="38.47" height="4.31" fill="#580006"/>
<rect x="681.87" y="352.23" width="38.47" height="4.31" fill="#9e1418"/>
<rect x="719.73" y="352.23" width="38.47" height="4.31" fill="#580006"/>
<rect x="757.6" y="352.23" width="38.47" height="4.31" fill="#3cb65c"/>
<rect x="795.47" y="352.23" width="38.47" height="4.31" fill="#021a06"/>
<rect x="833.33" y="352.23" width="38.47" height="4.31" fill="#021a06"/>
<rect x="644" y="355.95" width="38.47" height="4.31" fill="#580006"/>
<rect x="681.87" y="355.95" width="38.47" height="4.31" fill="#9e1418"/>
<rect x="719.73" y="355.95" width="38.47" height="4.31" fill="#6e0008"/>
<rect x="757.6" y="355.95" width="38.47" height="4.31" fill="#3cb65c"/>
<rect x="795.47" y="355.95" width="38.47" height="4.31" fill="#0e4e1e"/>
<rect x="833.33" y="355.95" width="38.47" height="4.31" fill="#580006"/>
<rect x="644" y="359.66" width="38.47" height="4.31" fill="#6e0008"/>
<rect x="681.87" y="359.66" width="38.47" height="4.31" fill="#6e0008"/>
<rect x="719.73" y="359.66" width="38.47" height="4.31" fill="#8d0e12"/>
<rect x="757.6" y="359.66" width="38.47" height="4.31" fill="#021a06"/>
<rect x="795.47" y="359.66" width="38.47" height="4.31" fill="#0e4e1e"/>
<rect x="833.33" y="359.66" width="38.47" height="4.31" fill="#3cb65c"/>
<rect x="644" y="363.38" width="38.47" height="4.31" fill="#6e0008"/>
<rect x="681.87" y="363.38" width="38.47" height="4.31" fill="#9e1418"/>
<rect x="719.73" y="363.38" width="38.47" height="4.31" fill="#7e070c"/>
<rect x="757.6" y="363.38" width="38.47" height="4.31" fill="#0e4e1e"/>
<rect x="795.47" y="363.38" width="38.47" height="4.31" fill="#063c14"/>
<rect x="833.33" y="363.38" width="38.47" height="4.31" fill="#3cb65c"/>
<rect x="644" y="367.09" width="38.47" height="4.31" fill="#c41a22"/>
<rect x="681.87" y="367.09" width="38.47" height="4.31" fill="#9e1418"/>
<rect x="719.73" y="367.09" width="38.47" height="4.31" fill="#580006"/>
<rect x="757.6" y="367.09" width="38.47" height="4.31" fill="#021a06"/>
<rect x="795.47" y="367.09" width="38.47" height="4.31" fill="#27a64c"/>
<rect x="833.33" y="367.09" width="38.47" height="4.31" fill="#1f9143"/>
<rect x="644" y="370.8" width="38.47" height="4.31" fill="#ae171c"/>
<rect x="681.87" y="370.8" width="38.47" height="4.31" fill="#9e1418"/>
<rect x="719.73" y="370.8" width="38.47" height="4.31" fill="#580006"/>
<rect x="757.6" y="370.8" width="38.47" height="4.31" fill="#1b823b"/>
<rect x="795.47" y="370.8" width="38.47" height="4.31" fill="#27a64c"/>
<rect x="833.33" y="370.8" width="38.47" height="4.31" fill="#0e4e1e"/>
<rect x="644" y="374.52" width="38.47" height="4.31" fill="#8d0e12"/>
<rect x="681.87" y="374.52" width="38.47" height="4.31" fill="#7e070c"/>
<rect x="719.73" y="374.52" width="38.47" height="4.31" fill="#580006"/>
<rect x="757.6" y="374.52" width="38.47" height="4.31" fill="#021a06"/>
<rect x="795.47" y="374.52" width="38.47" height="4.31" fill="#3cb65c"/>
<rect x="833.33" y="374.52" width="38.47" height="4.31" fill="#021a06"/>
<rect x="644" y="378.23" width="38.47" height="4.31" fill="#580006"/>
<rect x="681.87" y="378.23" width="38.47" height="4.31" fill="#6e0008"/>
<rect x="719.73" y="378.23" width="38.47" height="4.31" fill="#e2222a"/>
<rect x="757.6" y="378.23" width="38.47" height="4.31" fill="#1b823b"/>
<rect x="795.47" y="378.23" width="38.47" height="4.31" fill="#27a64c"/>
<rect x="833.33" y="378.23" width="38.47" height="4.31" fill="#063c14"/>
<rect x="644" y="381.95" width="38.47" height="4.31" fill="#580006"/>
<rect x="681.87" y="381.95" width="38.47" height="4.31" fill="#6e0008"/>
<rect x="719.73" y="381.95" width="38.47" height="4.31" fill="#e2222a"/>
<rect x="757.6" y="381.95" width="38.47" height="4.31" fill="#27a64c"/>
<rect x="795.47" y="381.95" width="38.47" height="4.31" fill="#15622b"/>
<rect x="833.33" y="381.95" width="38.47" height="4.31" fill="#0e4e1e"/>
<rect x="644" y="385.66" width="38.47" height="4.31" fill="#580006"/>
<rect x="681.87" y="385.66" width="38.47" height="4.31" fill="#ae171c"/>
<rect x="719.73" y="385.66" width="38.47" height="4.31" fill="#c41a22"/>
<rect x="757.6" y="385.66" width="38.47" height="4.31" fill="#27a64c"/>
<rect x="795.47" y="385.66" width="38.47" height="4.31" fill="#1b823b"/>
<rect x="833.33" y="385.66" width="38.47" height="4.31" fill="#0e4e1e"/>
<rect x="644" y="389.38" width="38.47" height="4.31" fill="#7e070c"/>
<rect x="681.87" y="389.38" width="38.47" height="4.31" fill="#8d0e12"/>
<rect x="719.73" y="389.38" width="38.47" height="4.31" fill="#ae171c"/>
<rect x="757.6" y="389.38" width="38.47" height="4.31" fill="#27a64c"/>
<rect x="795.47" y="389.38" width="38.47" height="4.31" fill="#197334"/>
<rect x="833.33" y="389.38" width="38.47" height="4.31" fill="#15622b"/>
<rect x="644" y="393.09" width="38.47" height="4.31" fill="#7e070c"/>
<rect x="681.87" y="393.09" width="38.47" height="4.31" fill="#8d0e12"/>
<rect x="719.73" y="393.09" width="38.47" height="4.31" fill="#8d0e12"/>
<rect x="757.6" y="393.09" width="38.47" height="4.31" fill="#27a64c"/>
<rect x="795.47" y="393.09" width="38.47" height="4.31" fill="#1b823b"/>
<rect x="833.33" y="393.09" width="38.47" height="4.31" fill="#063c14"/>
<rect x="644" y="396.8" width="38.47" height="4.31" fill="#7e070c"/>
<rect x="681.87" y="396.8" width="38.47" height="4.31" fill="#ae171c"/>
<rect x="719.73" y="396.8" width="38.47" height="4.31" fill="#8d0e12"/>
<rect x="757.6" y="396.8" width="38.47" height="4.31" fill="#063c14"/>
<rect x="795.47" y="396.8" width="38.47" height="4.31" fill="#1f9143"/>
<rect x="833.33" y="396.8" width="38.47" height="4.31" fill="#1b823b"/>
<rect x="644" y="400.52" width="38.47" height="4.31" fill="#8d0e12"/>
<rect x="681.87" y="400.52" width="38.47" height="4.31" fill="#ae171c"/>
<rect x="719.73" y="400.52" width="38.47" height="4.31" fill="#6e0008"/>
<rect x="757.6" y="400.52" width="38.47" height="4.31" fill="#063c14"/>
<rect x="795.47" y="400.52" width="38.47" height="4.31" fill="#1b823b"/>
<rect x="833.33" y="400.52" width="38.47" height="4.31" fill="#27a64c"/>
<rect x="644" y="404.23" width="38.47" height="4.31" fill="#8d0e12"/>
<rect x="681.87" y="404.23" width="38.47" height="4.31" fill="#9e1418"/>
<rect x="719.73" y="404.23" width="38.47" height="4.31" fill="#8d0e12"/>
<rect x="757.6" y="404.23" width="38.47" height="4.31" fill="#0e4e1e"/>
<rect x="795.47" y="404.23" width="38.47" height="4.31" fill="#197334"/>
<rect x="833.33" y="404.23" width="38.47" height="4.31" fill="#27a64c"/>
<rect x="644" y="407.95" width="38.47" height="4.31" fill="#8d0e12"/>
<rect x="681.87" y="407.95" width="38.47" height="4.31" fill="#6e0008"/>
<rect x="719.73" y="407.95" width="38.47" height="4.31" fill="#9e1418"/>
<rect x="757.6" y="407.95" width="38.47" height="4.31" fill="#1b823b"/>
<rect x="795.47" y="407.95" width="38.47" height="4.31" fill="#1b823b"/>
<rect x="833.33" y="407.95" width="38.47" height="4.31" fill="#15622b"/>
<rect x="644" y="411.66" width="38.47" height="4.31" fill="#8d0e12"/>
<rect x="681.87" y="411.66" width="38.47" height="4.31" fill="#6e0008"/>
<rect x="719.73" y="411.66" width="38.47" height="4.31" fill="#ae171c"/>
<rect x="757.6" y="411.66" width="38.47" height="4.31" fill="#1b823b"/>
<rect x="795.47" y="411.66" width="38.47" height="4.31" fill="#197334"/>
<rect x="833.33" y="411.66" width="38.47" height="4.31" fill="#197334"/>
<rect x="644" y="415.38" width="38.47" height="4.31" fill="#7e070c"/>
<rect x="681.87" y="415.38" width="38.47" height="4.31" fill="#7e070c"/>
<rect x="719.73" y="415.38" width="38.47" height="4.31" fill="#c41a22"/>
<rect x="757.6" y="415.38" width="38.47" height="4.31" fill="#1b823b"/>
<rect x="795.47" y="415.38" width="38.47" height="4.31" fill="#1b823b"/>
<rect x="833.33" y="415.38" width="38.47" height="4.31" fill="#197334"/>
<rect x="644" y="419.09" width="38.47" height="4.31" fill="#7e070c"/>
<rect x="681.87" y="419.09" width="38.47" height="4.31" fill="#7e070c"/>
<rect x="719.73" y="419.09" width="38.47" height="4.31" fill="#ae171c"/>
<rect x="757.6" y="419.09" width="38.47" height="4.31" fill="#197334"/>
<rect x="795.47" y="419.09" width="38.47" height="4.31" fill="#197334"/>
<rect x="833.33" y="419.09" width="38.47" height="4.31" fill="#1b823b"/>
<rect x="644" y="422.8" width="38.47" height="4.31" fill="#7e070c"/>
<rect x="681.87" y="422.8" width="38.47" height="4.31" fill="#8d0e12"/>
<rect x="719.73" y="422.8" width="38.47" height="4.31" fill="#ae171c"/>
<rect x="757.6" y="422.8" width="38.47" height="4.31" fill="#1b823b"/>
<rect x="795.47" y="422.8" width="38.47" height="4.31" fill="#15622b"/>
<rect x="833.33" y="422.8" width="38.47" height="4.31" fill="#1b823b"/>
<rect x="644" y="426.52" width="38.47" height="4.31" fill="#7e070c"/>
<rect x="681.87" y="426.52" width="38.47" height="4.31" fill="#8d0e12"/>
<rect x="719.73" y="426.52" width="38.47" height="4.31" fill="#9e1418"/>
<rect x="757.6" y="426.52" width="38.47" height="4.31" fill="#197334"/>
<rect x="795.47" y="426.52" width="38.47" height="4.31" fill="#1b823b"/>
<rect x="833.33" y="426.52" width="38.47" height="4.31" fill="#1b823b"/>
<rect x="644" y="430.23" width="38.47" height="4.31" fill="#7e070c"/>
<rect x="681.87" y="430.23" width="38.47" height="4.31" fill="#8d0e12"/>
<rect x="719.73" y="430.23" width="38.47" height="4.31" fill="#9e1418"/>
<rect x="757.6" y="430.23" width="38.47" height="4.31" fill="#1b823b"/>
<rect x="795.47" y="430.23" width="38.47" height="4.31" fill="#197334"/>
<rect x="833.33" y="430.23" width="38.47" height="4.31" fill="#1b823b"/>
<rect x="644" y="433.95" width="38.47" height="4.31" fill="#7e070c"/>
<rect x="681.87" y="433.95" width="38.47" height="4.31" fill="#7e070c"/>
<rect x="719.73" y="433.95" width="38.47" height="4.31" fill="#9e1418"/>
<rect x="757.6" y="433.95" width="38.47" height="4.31" fill="#1b823b"/>
<rect x="795.47" y="433.95" width="38.47" height="4.31" fill="#197334"/>
<rect x="833.33" y="433.95" width="38.47" height="4.31" fill="#1b823b"/>
<rect x="644" y="437.66" width="38.47" height="4.31" fill="#7e070c"/>
<rect x="681.87" y="437.66" width="38.47" height="4.31" fill="#7e070c"/>
<rect x="719.73" y="437.66" width="38.47" height="4.31" fill="#ae171c"/>
<rect x="757.6" y="437.66" width="38.47" height="4.31" fill="#197334"/>
<rect x="795.47" y="437.66" width="38.47" height="4.31" fill="#1b823b"/>
<rect x="833.33" y="437.66" width="38.47" height="4.31" fill="#1b823b"/>
<rect x="644" y="441.37" width="38.47" height="4.31" fill="#7e070c"/>
<rect x="681.87" y="441.37" width="38.47" height="4.31" fill="#7e070c"/>
<rect x="719.73" y="441.37" width="38.47" height="4.31" fill="#ae171c"/>
<rect x="757.6" y="441.37" width="38.47" height="4.31" fill="#15622b"/>
<rect x="795.47" y="441.37" width="38.47" height="4.31" fill="#1f9143"/>
<rect x="833.33" y="441.37" width="38.47" height="4.31" fill="#197334"/>
<rect x="644" y="445.09" width="38.47" height="4.31" fill="#7e070c"/>
<rect x="681.87" y="445.09" width="38.47" height="4.31" fill="#7e070c"/>
<rect x="719.73" y="445.09" width="38.47" height="4.31" fill="#ae171c"/>
<rect x="757.6" y="445.09" width="38.47" height="4.31" fill="#1b823b"/>
<rect x="795.47" y="445.09" width="38.47" height="4.31" fill="#1f9143"/>
<rect x="833.33" y="445.09" width="38.47" height="4.31" fill="#15622b"/>
<rect x="644" y="448.8" width="38.47" height="4.31" fill="#8d0e12"/>
<rect x="681.87" y="448.8" width="38.47" height="4.31" fill="#8d0e12"/>
<rect x="719.73" y="448.8" width="38.47" height="4.31" fill="#8d0e12"/>
<rect x="757.6" y="448.8" width="38.47" height="4.31" fill="#1f9143"/>
<rect x="795.47" y="448.8" width="38.47" height="4.31" fill="#15622b"/>
<rect x="833.33" y="448.8" width="38.47" height="4.31" fill="#1b823b"/>
<rect x="644" y="452.52" width="38.47" height="4.31" fill="#8d0e12"/>
<rect x="681.87" y="452.52" width="38.47" height="4.31" fill="#7e070c"/>
<rect x="719.73" y="452.52" width="38.47" height="4.31" fill="#7e070c"/>
<rect x="757.6" y="452.52" width="38.47" height="4.31" fill="#1f9143"/>
<rect x="795.47" y="452.52" width="38.47" height="4.31" fill="#0e4e1e"/>
<rect x="833.33" y="452.52" width="38.47" height="4.31" fill="#197334"/>
<rect x="644" y="456.23" width="38.47" height="4.31" fill="#9e1418"/>
<rect x="681.87" y="456.23" width="38.47" height="4.31" fill="#8d0e12"/>
<rect x="719.73" y="456.23" width="38.47" height="4.31" fill="#7e070c"/>
<rect x="757.6" y="456.23" width="38.47" height="4.31" fill="#1b823b"/>
<rect x="795.47" y="456.23" width="38.47" height="4.31" fill="#15622b"/>
<rect x="833.33" y="456.23" width="38.47" height="4.31" fill="#1f9143"/>
<rect x="644" y="459.94" width="38.47" height="4.31" fill="#8d0e12"/>
<rect x="681.87" y="459.94" width="38.47" height="4.31" fill="#8d0e12"/>
<rect x="719.73" y="459.94" width="38.47" height="4.31" fill="#9e1418"/>
<rect x="757.6" y="459.94" width="38.47" height="4.31" fill="#1b823b"/>
<rect x="795.47" y="459.94" width="38.47" height="4.31" fill="#15622b"/>
<rect x="833.33" y="459.94" width="38.47" height="4.31" fill="#1b823b"/>
<rect x="644" y="463.66" width="38.47" height="4.31" fill="#7e070c"/>
<rect x="681.87" y="463.66" width="38.47" height="4.31" fill="#9e1418"/>
<rect x="719.73" y="463.66" width="38.47" height="4.31" fill="#9e1418"/>
<rect x="757.6" y="463.66" width="38.47" height="4.31" fill="#1b823b"/>
<rect x="795.47" y="463.66" width="38.47" height="4.31" fill="#15622b"/>
<rect x="833.33" y="463.66" width="38.47" height="4.31" fill="#1b823b"/>
<rect x="644" y="467.37" width="38.47" height="4.31" fill="#8d0e12"/>
<rect x="681.87" y="467.37" width="38.47" height="4.31" fill="#9e1418"/>
<rect x="719.73" y="467.37" width="38.47" height="4.31" fill="#7e070c"/>
<rect x="757.6" y="467.37" width="38.47" height="4.31" fill="#1b823b"/>
<rect x="795.47" y="467.37" width="38.47" height="4.31" fill="#1b823b"/>
<rect x="833.33" y="467.37" width="38.47" height="4.31" fill="#1b823b"/>
<rect x="644" y="471.09" width="38.47" height="4.31" fill="#8d0e12"/>
<rect x="681.87" y="471.09" width="38.47" height="4.31" fill="#9e1418"/>
<rect x="719.73" y="471.09" width="38.47" height="4.31" fill="#7e070c"/>
<rect x="757.6" y="471.09" width="38.47" height="4.31" fill="#197334"/>
<rect x="795.47" y="471.09" width="38.47" height="4.31" fill="#197334"/>
<rect x="833.33" y="471.09" width="38.47" height="4.31" fill="#1b823b"/>
<rect x="644" y="474.8" width="38.47" height="4.31" fill="#8d0e12"/>
<rect x="681.87" y="474.8" width="38.47" height="4.31" fill="#9e1418"/>
<rect x="719.73" y="474.8" width="38.47" height="4.31" fill="#7e070c"/>
<rect x="757.6" y="474.8" width="38.47" height="4.31" fill="#197334"/>
<rect x="795.47" y="474.8" width="38.47" height="4.31" fill="#1b823b"/>
<rect x="833.33" y="474.8" width="38.47" height="4.31" fill="#1b823b"/>
<rect x="644" y="478.52" width="38.47" height="4.31" fill="#8d0e12"/>
<rect x="681.87" y="478.52" width="38.47" height="4.31" fill="#8d0e12"/>
<rect x="719.73" y="478.52" width="38.47" height="4.31" fill="#8d0e12"/>
<rect x="757.6" y="478.52" width="38.47" height="4.31" fill="#1b823b"/>
<rect x="795.47" y="478.52" width="38.47" height="4.31" fill="#1b823b"/>
<rect x="833.33" y="478.52" width="38.47" height="4.31" fill="#197334"/>
<rect x="644" y="482.23" width="38.47" height="4.31" fill="#7e070c"/>
<rect x="681.87" y="482.23" width="38.47" height="4.31" fill="#8d0e12"/>
<rect x="719.73" y="482.23" width="38.47" height="4.31" fill="#8d0e12"/>
<rect x="757.6" y="482.23" width="38.47" height="4.31" fill="#1b823b"/>
<rect x="795.47" y="482.23" width="38.47" height="4.31" fill="#1b823b"/>
<rect x="833.33" y="482.23" width="38.47" height="4.31" fill="#15622b"/>
<rect x="644" y="485.94" width="38.47" height="4.31" fill="#8d0e12"/>
<rect x="681.87" y="485.94" width="38.47" height="4.31" fill="#8d0e12"/>
<rect x="719.73" y="485.94" width="38.47" height="4.31" fill="#8d0e12"/>
<rect x="757.6" y="485.94" width="38.47" height="4.31" fill="#1b823b"/>
<rect x="795.47" y="485.94" width="38.47" height="4.31" fill="#1b823b"/>
<rect x="833.33" y="485.94" width="38.47" height="4.31" fill="#15622b"/>
<rect x="644" y="489.66" width="38.47" height="4.31" fill="#8d0e12"/>
<rect x="681.87" y="489.66" width="38.47" height="4.31" fill="#8d0e12"/>
<rect x="719.73" y="489.66" width="38.47" height="4.31" fill="#8d0e12"/>
<rect x="757.6" y="489.66" width="38.47" height="4.31" fill="#1b823b"/>
<rect x="795.47" y="489.66" width="38.47" height="4.31" fill="#1b823b"/>
<rect x="833.33" y="489.66" width="38.47" height="4.31" fill="#15622b"/>
<rect x="644" y="493.37" width="38.47" height="4.31" fill="#8d0e12"/>
<rect x="681.87" y="493.37" width="38.47" height="4.31" fill="#8d0e12"/>
<rect x="719.73" y="493.37" width="38.47" height="4.31" fill="#8d0e12"/>
<rect x="757.6" y="493.37" width="38.47" height="4.31" fill="#1b823b"/>
<rect x="795.47" y="493.37" width="38.47" height="4.31" fill="#197334"/>
<rect x="833.33" y="493.37" width="38.47" height="4.31" fill="#1b823b"/>
<rect x="644" y="497.09" width="38.47" height="4.31" fill="#8d0e12"/>
<rect x="681.87" y="497.09" width="38.47" height="4.31" fill="#7e070c"/>
<rect x="719.73" y="497.09" width="38.47" height="4.31" fill="#8d0e12"/>
<rect x="757.6" y="497.09" width="38.47" height="4.31" fill="#1b823b"/>
<rect x="795.47" y="497.09" width="38.47" height="4.31" fill="#1b823b"/>
<rect x="833.33" y="497.09" width="38.47" height="4.31" fill="#1b823b"/>
<rect x="644" y="500.8" width="38.47" height="4.31" fill="#8d0e12"/>
<rect x="681.87" y="500.8" width="38.47" height="4.31" fill="#7e070c"/>
<rect x="719.73" y="500.8" width="38.47" height="4.31" fill="#9e1418"/>
<rect x="757.6" y="500.8" width="38.47" height="4.31" fill="#1b823b"/>
<rect x="795.47" y="500.8" width="38.47" height="4.31" fill="#197334"/>
<rect x="833.33" y="500.8" width="38.47" height="4.31" fill="#1b823b"/>
<rect x="644" y="504.51" width="38.47" height="4.31" fill="#8d0e12"/>
<rect x="681.87" y="504.51" width="38.47" height="4.31" fill="#7e070c"/>
<rect x="719.73" y="504.51" width="38.47" height="4.31" fill="#8d0e12"/>
<rect x="757.6" y="504.51" width="38.47" height="4.31" fill="#1b823b"/>
<rect x="795.47" y="504.51" width="38.47" height="4.31" fill="#197334"/>
<rect x="833.33" y="504.51" width="38.47" height="4.31" fill="#1b823b"/>
<rect x="644" y="508.23" width="38.47" height="4.31" fill="#8d0e12"/>
<rect x="681.87" y="508.23" width="38.47" height="4.31" fill="#8d0e12"/>
<rect x="719.73" y="508.23" width="38.47" height="4.31" fill="#7e070c"/>
<rect x="757.6" y="508.23" width="38.47" height="4.31" fill="#197334"/>
<rect x="795.47" y="508.23" width="38.47" height="4.31" fill="#1b823b"/>
<rect x="833.33" y="508.23" width="38.47" height="4.31" fill="#1b823b"/>
<rect x="644" y="511.94" width="38.47" height="4.31" fill="#8d0e12"/>
<rect x="681.87" y="511.94" width="38.47" height="4.31" fill="#8d0e12"/>
<rect x="719.73" y="511.94" width="38.47" height="4.31" fill="#7e070c"/>
<rect x="757.6" y="511.94" width="38.47" height="4.31" fill="#197334"/>
<rect x="795.47" y="511.94" width="38.47" height="4.31" fill="#1b823b"/>
<rect x="833.33" y="511.94" width="38.47" height="4.31" fill="#1b823b"/>
<rect x="644" y="515.66" width="38.47" height="4.31" fill="#8d0e12"/>
<rect x="681.87" y="515.66" width="38.47" height="4.31" fill="#8d0e12"/>
<rect x="719.73" y="515.66" width="38.47" height="4.31" fill="#7e070c"/>
<rect x="757.6" y="515.66" width="38.47" height="4.31" fill="#1b823b"/>
<rect x="795.47" y="515.66" width="38.47" height="4.31" fill="#1b823b"/>
<rect x="833.33" y="515.66" width="38.47" height="4.31" fill="#197334"/>
<rect x="644" y="519.37" width="38.47" height="4.31" fill="#8d0e12"/>
<rect x="681.87" y="519.37" width="38.47" height="4.31" fill="#8d0e12"/>
<rect x="719.73" y="519.37" width="38.47" height="4.31" fill="#8d0e12"/>
<rect x="757.6" y="519.37" width="38.47" height="4.31" fill="#1b823b"/>
<rect x="795.47" y="519.37" width="38.47" height="4.31" fill="#1b823b"/>
<rect x="833.33" y="519.37" width="38.47" height="4.31" fill="#197334"/>
<rect x="644" y="523.09" width="38.47" height="4.31" fill="#8d0e12"/>
<rect x="681.87" y="523.09" width="38.47" height="4.31" fill="#8d0e12"/>
<rect x="719.73" y="523.09" width="38.47" height="4.31" fill="#8d0e12"/>
<rect x="757.6" y="523.09" width="38.47" height="4.31" fill="#1b823b"/>
<rect x="795.47" y="523.09" width="38.47" height="4.31" fill="#1b823b"/>
<rect x="833.33" y="523.09" width="38.47" height="4.31" fill="#197334"/>
</g>
<text x="170.6" y="49.5" font-size="30" text-anchor="middle">NCD</text>
<text x="300.3" y="49.5" font-size="30" text-anchor="middle">HFD</text>
<line x1="135.8" y1="61.8" x2="225.3" y2="61.8" stroke="#58595b" stroke-width="1.8"/>
<line x1="258.4" y1="61.8" x2="348" y2="61.8" stroke="#58595b" stroke-width="1.8"/>
<text x="71.5" y="148.3" font-size="24.3" text-anchor="middle" transform="rotate(-90 71.5 148.3)" dy="8.75"><tspan font-style="italic">n</tspan> = 41</text>
<path d="M371.4 121.7H392.6V165.4" fill="none" stroke="#e8232b" stroke-width="1.8"/>
<path d="M358.3 121.7L372 115.2V128.2Z" fill="#e8232b"/>
<text x="362" y="192" font-size="25">miR-802</text>
<defs><linearGradient id="cb" x1="0" x2="1" y1="0" y2="0"><stop offset="0" stop-color="#e8222c"/><stop offset="0.12" stop-color="#c01820"/><stop offset="0.3" stop-color="#7a0a0e"/><stop offset="0.42" stop-color="#2a0204"/><stop offset="0.5" stop-color="#050505"/><stop offset="0.58" stop-color="#032a0a"/><stop offset="0.72" stop-color="#15652c"/><stop offset="0.88" stop-color="#26a64b"/><stop offset="1" stop-color="#52bb6c"/></linearGradient></defs>
<rect x="140.4" y="561.8" width="223.2" height="15" fill="url(#cb)"/>
<text x="128.5" y="578" font-size="25" text-anchor="end">2</text>
<text x="375" y="578" font-size="25">−2</text>
<text x="191" y="557" font-size="25" text-anchor="middle">49%</text>
<text x="316.8" y="557" font-size="25" text-anchor="middle">51%</text>
<text x="253.6" y="607.5" font-size="25" text-anchor="middle">x-fold change (Log2Ration)</text>
<text x="690.7" y="54.6" font-size="29.3" text-anchor="middle">control</text>
<text x="765.5" y="54.6" font-size="29.3">Lepr<tspan font-size="20.5" dy="-13.5">db/db</tspan></text>
<line x1="646.1" y1="65.9" x2="735.7" y2="65.9" stroke="#58595b" stroke-width="1.8"/>
<line x1="770.3" y1="65.9" x2="859.3" y2="65.9" stroke="#58595b" stroke-width="1.8"/>
<text x="581.45" y="144.2" font-size="24.3" text-anchor="middle" transform="rotate(-90 581.45 144.2)" dy="8.75"><tspan font-style="italic">n</tspan> = 120</text>
<path d="M883.3 85.8H905.8V129.5" fill="none" stroke="#e8232b" stroke-width="1.8"/>
<path d="M871.5 85.8L885 79.3V92.3Z" fill="#e8232b"/>
<text x="879.6" y="154.5" font-size="25">miR-802</text>
<rect x="654.5" y="561.8" width="223.2" height="14.5" fill="url(#cb)"/>
<text x="643" y="578" font-size="25" text-anchor="end">2</text>
<text x="889.6" y="578" font-size="25">−2</text>
<text x="693" y="557" font-size="25" text-anchor="middle">60%</text>
<text x="833.4" y="557" font-size="25" text-anchor="middle">40%</text>
<text x="768.9" y="607" font-size="25" text-anchor="middle">x-fold change (Log2Ration)</text>
<line x1="91.2" y1="176.3" x2="91.2" y2="413.5" stroke="#6d6e70" stroke-width="1.4"/>
<line x1="117.6" y1="101" x2="117.6" y2="250" stroke="#3a3a3a" stroke-width="1.2"/>
<line x1="125.7" y1="95" x2="125.7" y2="169" stroke="#3a3a3a" stroke-width="1.6"/>
<line x1="121" y1="234" x2="121" y2="265" stroke="#3a3a3a" stroke-width="1.2"/>
<line x1="126.5" y1="108" x2="126.5" y2="128" stroke="#3a3a3a" stroke-width="2.2"/>
<line x1="128.5" y1="125" x2="128.5" y2="160" stroke="#3a3a3a" stroke-width="1.6"/>
<line x1="123.5" y1="234" x2="123.5" y2="248" stroke="#3a3a3a" stroke-width="1.5"/>
<line x1="121" y1="234" x2="130.5" y2="234" stroke="#3a3a3a" stroke-width="1.2"/>
<line x1="123.5" y1="246" x2="130.5" y2="246" stroke="#3a3a3a" stroke-width="1.2"/>
<line x1="126" y1="188" x2="130.5" y2="188" stroke="#3a3a3a" stroke-width="1.2"/>
<line x1="126" y1="254" x2="130.5" y2="254" stroke="#3a3a3a" stroke-width="1.2"/>
<line x1="117.6" y1="250" x2="121" y2="250" stroke="#3a3a3a" stroke-width="1.2"/>
<line x1="117.6" y1="101" x2="125.7" y2="101" stroke="#3a3a3a" stroke-width="1.2"/>
<line x1="126.5" y1="290" x2="130.5" y2="290" stroke="#9a9a9a" stroke-width="1"/>
<line x1="119.8" y1="312" x2="119.8" y2="370" stroke="#3a3a3a" stroke-width="1.2"/>
<line x1="115.5" y1="340" x2="119.8" y2="340" stroke="#3a3a3a" stroke-width="1.2"/>
<line x1="123.5" y1="350" x2="123.5" y2="389" stroke="#555" stroke-width="1.8"/>
<line x1="125.5" y1="387" x2="125.5" y2="470" stroke="#3a3a3a" stroke-width="1.8"/>
<line x1="128" y1="450" x2="128" y2="505" stroke="#3a3a3a" stroke-width="1.5"/>
<line x1="126" y1="302" x2="130.5" y2="302" stroke="#777" stroke-width="1"/>
<line x1="126" y1="318" x2="130.5" y2="318" stroke="#777" stroke-width="1"/>
<line x1="101" y1="514.1" x2="111.8" y2="514.1" stroke="#3a3a3a" stroke-width="1.4"/>
<line x1="111.8" y1="508.6" x2="111.8" y2="519.5" stroke="#3a3a3a" stroke-width="1.4"/>
<line x1="111.8" y1="519.5" x2="130.5" y2="519.5" stroke="#777" stroke-width="1.2"/>
<line x1="111.8" y1="508.6" x2="114" y2="508.6" stroke="#777" stroke-width="1.2"/>
<line x1="604.6" y1="133.7" x2="604.6" y2="364.3" stroke="#6d6e70" stroke-width="1.3"/>
<line x1="604.6" y1="133.7" x2="625.7" y2="133.7" stroke="#6d6e70" stroke-width="1.3"/>
<line x1="604.6" y1="364.3" x2="619.1" y2="364.3" stroke="#9a9a9a" stroke-width="1.2"/>
<line x1="625.7" y1="86.1" x2="625.7" y2="182.3" stroke="#6d6e70" stroke-width="1.3"/>
<line x1="625.7" y1="182.3" x2="627.3" y2="182.3" stroke="#6d6e70" stroke-width="1.2"/>
<line x1="630.1" y1="83.3" x2="630.1" y2="88.3" stroke="#3a3a3a" stroke-width="2"/>
<line x1="634" y1="99.9" x2="634" y2="118.7" stroke="#3a3a3a" stroke-width="1.4"/>
<line x1="634" y1="99.9" x2="640" y2="99.9" stroke="#3a3a3a" stroke-width="1.2"/>
<line x1="635" y1="111" x2="635" y2="116" stroke="#111" stroke-width="2"/>
<line x1="632.3" y1="177.3" x2="632.3" y2="334.7" stroke="#6d6e70" stroke-width="1.3"/>
<line x1="632.3" y1="177.3" x2="636.2" y2="177.3" stroke="#6d6e70" stroke-width="1.2"/>
<line x1="636.2" y1="166.8" x2="636.2" y2="270.8" stroke="#6d6e70" stroke-width="1.3"/>
<line x1="639.5" y1="142" x2="639.5" y2="190.6" stroke="#444" stroke-width="1.4"/>
<line x1="638" y1="136" x2="643" y2="136" stroke="#3a3a3a" stroke-width="1.2"/>
<line x1="641.5" y1="146" x2="641.5" y2="160" stroke="#111" stroke-width="2"/>
<line x1="642" y1="168" x2="642" y2="200" stroke="#222" stroke-width="1.6"/>
<line x1="641" y1="203" x2="641" y2="218" stroke="#777" stroke-width="1.2"/>
<line x1="642.5" y1="222" x2="642.5" y2="265" stroke="#222" stroke-width="1.8"/>
<line x1="641.5" y1="268" x2="641.5" y2="280" stroke="#555" stroke-width="1.2"/>
<line x1="640.5" y1="286" x2="640.5" y2="305" stroke="#222" stroke-width="1.3"/>
<line x1="642" y1="306" x2="642" y2="325" stroke="#222" stroke-width="1.6"/>
<line x1="634" y1="334.7" x2="643" y2="334.7" stroke="#3a3a3a" stroke-width="1.2"/>
<line x1="637.9" y1="334.7" x2="637.9" y2="342" stroke="#3a3a3a" stroke-width="1.3"/>
<line x1="637.9" y1="340" x2="643" y2="340" stroke="#3a3a3a" stroke-width="1.2"/>
<line x1="637.3" y1="350.4" x2="644" y2="350.4" stroke="#3a3a3a" stroke-width="1.3"/>
<line x1="639" y1="355.2" x2="644" y2="355.2" stroke="#3a3a3a" stroke-width="1.3"/>
<line x1="634.2" y1="369.1" x2="644" y2="369.1" stroke="#999" stroke-width="1.2"/>
<line x1="634.2" y1="373.3" x2="644" y2="373.3" stroke="#aaa" stroke-width="1.2"/>
<line x1="619.1" y1="375.1" x2="624" y2="375.1" stroke="#3a3a3a" stroke-width="1.3"/>
<line x1="627" y1="372.1" x2="627" y2="402.9" stroke="#555" stroke-width="1.4"/>
<line x1="627" y1="402.9" x2="631.5" y2="402.9" stroke="#3a3a3a" stroke-width="1.2"/>
<line x1="631.8" y1="383.6" x2="631.8" y2="422.2" stroke="#555" stroke-width="1.4"/>
<line x1="638.5" y1="380" x2="638.5" y2="392" stroke="#111" stroke-width="2"/>
<line x1="636.6" y1="402.3" x2="636.6" y2="442.8" stroke="#aaa" stroke-width="1.3"/>
<line x1="637.9" y1="419.2" x2="637.9" y2="468.7" stroke="#444" stroke-width="1.3"/>
<line x1="640.9" y1="412.6" x2="640.9" y2="495.3" stroke="#333" stroke-width="1.4"/>
<line x1="642.8" y1="430" x2="642.8" y2="460" stroke="#111" stroke-width="1.8"/>
<line x1="642.8" y1="468.7" x2="642.8" y2="517" stroke="#111" stroke-width="1.8"/>
<text x="-0.8" y="39.7" font-size="41.5" font-weight="bold">a</text>
<text x="570.2" y="39.7" font-size="41.5" font-weight="bold">b</text>
<text x="1154.2" y="40.2" font-size="41.5" font-weight="bold">c</text>
<text x="1385.6" y="20.5" font-size="29" text-anchor="middle">islet</text>
<text x="1389.8" y="57.4" font-size="25" text-anchor="middle"><tspan font-style="italic">p</tspan> = 0.0002</text>
<path d="M1319.2 85.1V75.6H1480.3V85.1" fill="none" stroke="#0d0d0d" stroke-width="2"/>
<rect x="1302.5" y="359.6" width="82.2" height="171.7" fill="#cbcccd" stroke="#0d0d0d" stroke-width="4"/>
<rect x="1433" y="137.4" width="80.7" height="393.9" fill="#9d1519" stroke="#0d0d0d" stroke-width="4"/>
<line x1="1258.1" y1="75.9" x2="1258.1" y2="533.3" stroke="#0d0d0d" stroke-width="4"/>
<line x1="1245.1" y1="77.9" x2="1258.1" y2="77.9" stroke="#0d0d0d" stroke-width="4"/>
<text x="1234" y="87.2" font-size="30" text-anchor="end">2.5</text>
<line x1="1245.1" y1="168.7" x2="1258.1" y2="168.7" stroke="#0d0d0d" stroke-width="4"/>
<text x="1234" y="178" font-size="30" text-anchor="end">2.0</text>
<line x1="1245.1" y1="259.4" x2="1258.1" y2="259.4" stroke="#0d0d0d" stroke-width="4"/>
<text x="1234" y="268.7" font-size="30" text-anchor="end">1.5</text>
<line x1="1245.1" y1="350.2" x2="1258.1" y2="350.2" stroke="#0d0d0d" stroke-width="4"/>
<text x="1234" y="359.5" font-size="30" text-anchor="end">1.0</text>
<line x1="1245.1" y1="440.9" x2="1258.1" y2="440.9" stroke="#0d0d0d" stroke-width="4"/>
<text x="1234" y="450.2" font-size="30" text-anchor="end">0.5</text>
<line x1="1245.1" y1="531.3" x2="1258.1" y2="531.3" stroke="#0d0d0d" stroke-width="4"/>
<text x="1234" y="540.6" font-size="30" text-anchor="end">0.0</text>
<line x1="1245" y1="531.3" x2="1561.6" y2="531.3" stroke="#0d0d0d" stroke-width="4"/>
<line x1="1343.6" y1="531.3" x2="1343.6" y2="542.8" stroke="#0d0d0d" stroke-width="4"/>
<line x1="1473.4" y1="531.3" x2="1473.4" y2="542.8" stroke="#0d0d0d" stroke-width="4"/>
<line x1="1473.5" y1="108.1" x2="1473.5" y2="161.7" stroke="#0d0d0d" stroke-width="3.6"/>
<line x1="1452" y1="108.1" x2="1495" y2="108.1" stroke="#0d0d0d" stroke-width="4"/>
<line x1="1452" y1="161.7" x2="1495" y2="161.7" stroke="#0d0d0d" stroke-width="4"/>
<line x1="1343.6" y1="351.6" x2="1343.6" y2="364.3" stroke="#0d0d0d" stroke-width="3.6"/>
<line x1="1323.1" y1="351.6" x2="1364.1" y2="351.6" stroke="#0d0d0d" stroke-width="4"/>
<line x1="1323.1" y1="364.3" x2="1364.1" y2="364.3" stroke="#0d0d0d" stroke-width="4"/>
<circle cx="1473.5" cy="106.3" r="6.7" fill="#fff" stroke="#0d0d0d" stroke-width="3.9"/>
<circle cx="1483.5" cy="140.2" r="6.7" fill="#fff" stroke="#0d0d0d" stroke-width="3.9"/>
<circle cx="1463.3" cy="159.2" r="6.7" fill="#fff" stroke="#0d0d0d" stroke-width="3.9"/>
<circle cx="1324" cy="352.2" r="6.7" fill="#fff" stroke="#0d0d0d" stroke-width="3.9"/>
<circle cx="1364.3" cy="355.4" r="6.7" fill="#fff" stroke="#0d0d0d" stroke-width="3.9"/>
<circle cx="1343.6" cy="364.3" r="6.7" fill="#fff" stroke="#0d0d0d" stroke-width="3.9"/>
<text x="1344" y="577" font-size="30.2" text-anchor="middle">NCD</text>
<text x="1473.7" y="577" font-size="30.2" text-anchor="middle">HFD</text>
<text x="1167" y="306" font-size="29" text-anchor="middle" transform="rotate(-90 1167 306)" dy="10.44"><tspan>Relative </tspan><tspan font-style="italic">miR-802</tspan><tspan> level</tspan></text>
<text x="-0.8" y="695.2" font-size="41.5" font-weight="bold">d</text>
<text x="205" y="724.6" font-size="29" text-anchor="middle">islet</text>
<text x="236.4" y="788" font-size="24.3" text-anchor="middle"><tspan font-style="italic">p</tspan> &lt; 0.0001</text>
<path d="M160.3 806.6V797.7H301.8V806.6" fill="none" stroke="#0d0d0d" stroke-width="2"/>
<rect x="129.4" y="1128.8" width="79.8" height="53.2" fill="#cbcccd" stroke="#0d0d0d" stroke-width="4"/>
<rect x="259.3" y="837.1" width="78.9" height="344.9" fill="#9d1519" stroke="#0d0d0d" stroke-width="4"/>
<line x1="82.3" y1="727.2" x2="82.3" y2="1184" stroke="#0d0d0d" stroke-width="4"/>
<line x1="69.3" y1="729.2" x2="82.3" y2="729.2" stroke="#0d0d0d" stroke-width="4"/>
<text x="58.8" y="738.5" font-size="30" text-anchor="end">8</text>
<line x1="69.3" y1="842.4" x2="82.3" y2="842.4" stroke="#0d0d0d" stroke-width="4"/>
<text x="58.8" y="851.7" font-size="30" text-anchor="end">6</text>
<line x1="69.3" y1="955.6" x2="82.3" y2="955.6" stroke="#0d0d0d" stroke-width="4"/>
<text x="58.8" y="964.9" font-size="30" text-anchor="end">4</text>
<line x1="69.3" y1="1068.8" x2="82.3" y2="1068.8" stroke="#0d0d0d" stroke-width="4"/>
<text x="58.8" y="1078.1" font-size="30" text-anchor="end">2</text>
<line x1="69.3" y1="1182" x2="82.3" y2="1182" stroke="#0d0d0d" stroke-width="4"/>
<text x="58.8" y="1191.3" font-size="30" text-anchor="end">0</text>
<line x1="71.2" y1="1182" x2="386.9" y2="1182" stroke="#0d0d0d" stroke-width="4"/>
<line x1="168.3" y1="1182" x2="168.3" y2="1195" stroke="#0d0d0d" stroke-width="4"/>
<line x1="298.7" y1="1182" x2="298.7" y2="1195" stroke="#0d0d0d" stroke-width="4"/>
<line x1="298.7" y1="821.9" x2="298.7" y2="845" stroke="#0d0d0d" stroke-width="3.6"/>
<line x1="278" y1="821.9" x2="319.4" y2="821.9" stroke="#0d0d0d" stroke-width="4"/>
<line x1="278" y1="845" x2="319.4" y2="845" stroke="#0d0d0d" stroke-width="4"/>
<line x1="168.3" y1="1116" x2="168.3" y2="1136" stroke="#0d0d0d" stroke-width="3.6"/>
<line x1="147.3" y1="1116" x2="189.3" y2="1116" stroke="#0d0d0d" stroke-width="4"/>
<line x1="147.3" y1="1136" x2="189.3" y2="1136" stroke="#0d0d0d" stroke-width="4"/>
<circle cx="299.4" cy="825" r="6.7" fill="#fff" stroke="#0d0d0d" stroke-width="3.9"/>
<circle cx="308.6" cy="829.6" r="6.7" fill="#fff" stroke="#0d0d0d" stroke-width="3.9"/>
<circle cx="288" cy="846.5" r="6.7" fill="#fff" stroke="#0d0d0d" stroke-width="3.9"/>
<circle cx="148.3" cy="1114.2" r="6.7" fill="#fff" stroke="#0d0d0d" stroke-width="3.9"/>
<circle cx="168.3" cy="1131.4" r="6.7" fill="#fff" stroke="#0d0d0d" stroke-width="3.9"/>
<circle cx="189.4" cy="1131.4" r="6.7" fill="#fff" stroke="#0d0d0d" stroke-width="3.9"/>
<text x="168.9" y="1227" font-size="30.2" text-anchor="middle">control</text>
<text x="298.7" y="1227" font-size="30.2" text-anchor="middle">Lepr<tspan font-size="21" dy="-13">db/db</tspan></text>
<text x="10.7" y="955.5" font-size="29" text-anchor="middle" transform="rotate(-90 10.7 955.5)" dy="10.44"><tspan>Relative </tspan><tspan font-style="italic">miR-802</tspan><tspan> level</tspan></text>
<text x="435.2" y="693.5" font-size="41.5" font-weight="bold">e</text>
<line x1="522.7" y1="816.42" x2="522.7" y2="1184.3" stroke="#0d0d0d" stroke-width="4"/>
<line x1="509.7" y1="818.42" x2="522.7" y2="818.42" stroke="#0d0d0d" stroke-width="4"/>
<text x="501.5" y="827.72" font-size="30" text-anchor="end">4</text>
<line x1="509.7" y1="909.39" x2="522.7" y2="909.39" stroke="#0d0d0d" stroke-width="4"/>
<text x="501.5" y="918.69" font-size="30" text-anchor="end">3</text>
<line x1="509.7" y1="1000.36" x2="522.7" y2="1000.36" stroke="#0d0d0d" stroke-width="4"/>
<text x="501.5" y="1009.66" font-size="30" text-anchor="end">2</text>
<line x1="509.7" y1="1091.33" x2="522.7" y2="1091.33" stroke="#0d0d0d" stroke-width="4"/>
<text x="501.5" y="1100.63" font-size="30" text-anchor="end">1</text>
<line x1="509.7" y1="1182.3" x2="522.7" y2="1182.3" stroke="#0d0d0d" stroke-width="4"/>
<text x="501.5" y="1191.6" font-size="30" text-anchor="end">0</text>
<line x1="510.7" y1="1182.3" x2="767.5" y2="1182.3" stroke="#0d0d0d" stroke-width="4"/>
<rect x="541.6" y="1093.33" width="23.8" height="88.97" fill="#cbcccd" stroke="#0d0d0d" stroke-width="4"/>
<line x1="553.5" y1="1182.3" x2="553.5" y2="1194.3" stroke="#0d0d0d" stroke-width="4"/>
<rect x="586.8" y="1075.14" width="23.8" height="107.16" fill="#cbcccd" stroke="#0d0d0d" stroke-width="4"/>
<line x1="598.7" y1="1182.3" x2="598.7" y2="1194.3" stroke="#0d0d0d" stroke-width="4"/>
<rect x="632.3" y="1048.75" width="23.8" height="133.55" fill="#cbcccd" stroke="#0d0d0d" stroke-width="4"/>
<line x1="644.2" y1="1182.3" x2="644.2" y2="1194.3" stroke="#0d0d0d" stroke-width="4"/>
<rect x="677.5" y="947.78" width="23.8" height="234.52" fill="#cbcccd" stroke="#0d0d0d" stroke-width="4"/>
<line x1="689.4" y1="1182.3" x2="689.4" y2="1194.3" stroke="#0d0d0d" stroke-width="4"/>
<rect x="723.1" y="883.19" width="23.8" height="299.11" fill="#cbcccd" stroke="#0d0d0d" stroke-width="4"/>
<line x1="735" y1="1182.3" x2="735" y2="1194.3" stroke="#0d0d0d" stroke-width="4"/>
<line x1="553.5" y1="1085" x2="553.5" y2="1098" stroke="#0d0d0d" stroke-width="3"/>
<line x1="553.5" y1="1085" x2="553.5" y2="1085" stroke="#0d0d0d" stroke-width="0"/>
<line x1="553.5" y1="1098" x2="553.5" y2="1098" stroke="#0d0d0d" stroke-width="0"/>
<line x1="689.4" y1="928" x2="689.4" y2="958" stroke="#0d0d0d" stroke-width="3"/>
<line x1="678.4" y1="928" x2="700.4" y2="928" stroke="#0d0d0d" stroke-width="4"/>
<line x1="678.4" y1="958" x2="700.4" y2="958" stroke="#0d0d0d" stroke-width="4"/>
<line x1="735" y1="874" x2="735" y2="891" stroke="#0d0d0d" stroke-width="3"/>
<line x1="724" y1="874" x2="746" y2="874" stroke="#0d0d0d" stroke-width="4"/>
<line x1="724" y1="891" x2="746" y2="891" stroke="#0d0d0d" stroke-width="4"/>
<circle cx="548.4" cy="1088.2" r="6.7" fill="#fff" stroke="#0d0d0d" stroke-width="3.9"/>
<circle cx="560.4" cy="1089.9" r="6.7" fill="#fff" stroke="#0d0d0d" stroke-width="3.9"/>
<circle cx="553.5" cy="1098.5" r="6.7" fill="#fff" stroke="#0d0d0d" stroke-width="3.9"/>
<circle cx="593.9" cy="1068.4" r="6.7" fill="#fff" stroke="#0d0d0d" stroke-width="3.9"/>
<circle cx="598.7" cy="1076.2" r="6.7" fill="#fff" stroke="#0d0d0d" stroke-width="3.9"/>
<circle cx="604.9" cy="1074.5" r="6.7" fill="#fff" stroke="#0d0d0d" stroke-width="3.9"/>
<circle cx="639.1" cy="1043.7" r="6.7" fill="#fff" stroke="#0d0d0d" stroke-width="3.9"/>
<circle cx="649.4" cy="1044.4" r="6.7" fill="#fff" stroke="#0d0d0d" stroke-width="3.9"/>
<circle cx="644.2" cy="1048.8" r="6.7" fill="#fff" stroke="#0d0d0d" stroke-width="3.9"/>
<circle cx="689.8" cy="923.9" r="6.7" fill="#fff" stroke="#0d0d0d" stroke-width="3.9"/>
<circle cx="697.3" cy="949.6" r="6.7" fill="#fff" stroke="#0d0d0d" stroke-width="3.9"/>
<circle cx="682.9" cy="954.7" r="6.7" fill="#fff" stroke="#0d0d0d" stroke-width="3.9"/>
<circle cx="735" cy="871.8" r="6.7" fill="#fff" stroke="#0d0d0d" stroke-width="3.9"/>
<circle cx="743.5" cy="876" r="6.7" fill="#fff" stroke="#0d0d0d" stroke-width="3.9"/>
<circle cx="728.1" cy="891.4" r="6.7" fill="#fff" stroke="#0d0d0d" stroke-width="3.9"/>
<path d="M547.7 1048.8V1039.6H600.4V1048.8" fill="none" stroke="#0d0d0d" stroke-width="2"/>
<text x="588.4" y="1030" font-size="24.3" text-anchor="middle"><tspan font-style="italic">p</tspan> = 0.0168</text>
<path d="M543.2 997.5V988.2H640.8V997.5" fill="none" stroke="#0d0d0d" stroke-width="2"/>
<text x="598" y="977" font-size="24.3" text-anchor="middle"><tspan font-style="italic">p</tspan> = 0.0009</text>
<path d="M551.8 913.6V904H687V913.6" fill="none" stroke="#0d0d0d" stroke-width="2"/>
<text x="613.4" y="888.6" font-size="24.3" text-anchor="middle"><tspan font-style="italic">p</tspan> &lt; 0.0001</text>
<path d="M547.7 867.4V857.8H736.7V867.4" fill="none" stroke="#0d0d0d" stroke-width="2"/>
<text x="647.7" y="849.2" font-size="24.3" text-anchor="middle"><tspan font-style="italic">p</tspan> &lt; 0.0001</text>
<text x="567.5" y="1217.5" font-size="30" text-anchor="end" transform="rotate(-45 567.5 1217.5)">25–30</text>
<text x="612.7" y="1217.5" font-size="30" text-anchor="end" transform="rotate(-45 612.7 1217.5)">30–35</text>
<text x="658.2" y="1217.5" font-size="30" text-anchor="end" transform="rotate(-45 658.2 1217.5)">35–40</text>
<text x="703.4" y="1217.5" font-size="30" text-anchor="end" transform="rotate(-45 703.4 1217.5)">40–45</text>
<text x="749" y="1217.5" font-size="30" text-anchor="end" transform="rotate(-45 749 1217.5)">45–50</text>
<text x="639" y="1313" font-size="29" text-anchor="middle">Weight (g)</text>
<text x="452.5" y="1000" font-size="29" text-anchor="middle" transform="rotate(-90 452.5 1000)" dy="10.44"><tspan>Relative </tspan><tspan font-style="italic">miR-802</tspan><tspan> level</tspan></text>
<text x="1235.2" y="1401.7" font-size="41.5" font-weight="bold">i</text>
<line x1="1322.1" y1="1443.2" x2="1322.1" y2="1900" stroke="#0d0d0d" stroke-width="4"/>
<line x1="1309.1" y1="1445.2" x2="1322.1" y2="1445.2" stroke="#0d0d0d" stroke-width="4"/>
<text x="1297" y="1454.5" font-size="30" text-anchor="end">4</text>
<line x1="1309.1" y1="1558.4" x2="1322.1" y2="1558.4" stroke="#0d0d0d" stroke-width="4"/>
<text x="1297" y="1567.7" font-size="30" text-anchor="end">3</text>
<line x1="1309.1" y1="1671.6" x2="1322.1" y2="1671.6" stroke="#0d0d0d" stroke-width="4"/>
<text x="1297" y="1680.9" font-size="30" text-anchor="end">2</text>
<line x1="1309.1" y1="1784.8" x2="1322.1" y2="1784.8" stroke="#0d0d0d" stroke-width="4"/>
<text x="1297" y="1794.1" font-size="30" text-anchor="end">1</text>
<line x1="1309.1" y1="1898" x2="1322.1" y2="1898" stroke="#0d0d0d" stroke-width="4"/>
<text x="1297" y="1907.3" font-size="30" text-anchor="end">0</text>
<line x1="1309.5" y1="1898" x2="1566" y2="1898" stroke="#0d0d0d" stroke-width="4"/>
<rect x="1358.8" y="1788" width="63.2" height="110" fill="#cbcccd" stroke="#0d0d0d" stroke-width="4"/>
<rect x="1463" y="1580.4" width="62.5" height="317.6" fill="#9d1519" stroke="#0d0d0d" stroke-width="4"/>
<line x1="1390.3" y1="1898" x2="1390.3" y2="1910.6" stroke="#0d0d0d" stroke-width="4"/>
<line x1="1495" y1="1898" x2="1495" y2="1910.6" stroke="#0d0d0d" stroke-width="4"/>
<line x1="1495" y1="1558.8" x2="1495" y2="1596.7" stroke="#0d0d0d" stroke-width="3.6"/>
<line x1="1478.2" y1="1558.8" x2="1511.8" y2="1558.8" stroke="#0d0d0d" stroke-width="4"/>
<line x1="1478.2" y1="1596.7" x2="1511.8" y2="1596.7" stroke="#0d0d0d" stroke-width="4"/>
<line x1="1390.3" y1="1781.3" x2="1390.3" y2="1790.7" stroke="#0d0d0d" stroke-width="3.6"/>
<line x1="1364.3" y1="1781.3" x2="1416.3" y2="1781.3" stroke="#0d0d0d" stroke-width="4"/>
<line x1="1364.3" y1="1790.7" x2="1416.3" y2="1790.7" stroke="#0d0d0d" stroke-width="4"/>
<circle cx="1485.6" cy="1566.7" r="6.7" fill="#fff" stroke="#0d0d0d" stroke-width="3.9"/>
<circle cx="1502.9" cy="1568.3" r="6.7" fill="#fff" stroke="#0d0d0d" stroke-width="3.9"/>
<circle cx="1494.4" cy="1599.8" r="6.7" fill="#fff" stroke="#0d0d0d" stroke-width="3.9"/>
<circle cx="1372" cy="1782.2" r="6.7" fill="#fff" stroke="#0d0d0d" stroke-width="3.9"/>
<circle cx="1390.9" cy="1791.4" r="6.7" fill="#fff" stroke="#0d0d0d" stroke-width="3.9"/>
<circle cx="1411.4" cy="1783.8" r="6.7" fill="#fff" stroke="#0d0d0d" stroke-width="3.9"/>
<path d="M1371.3 1555V1546.2H1496.6V1555" fill="none" stroke="#0d0d0d" stroke-width="2"/>
<text x="1433.5" y="1535.1" font-size="24.3" text-anchor="middle"><tspan font-style="italic">p</tspan> &lt; 0.0001</text>
<text x="1391.6" y="1943.8" font-size="30.2" text-anchor="middle">NCD</text>
<text x="1495" y="1943.8" font-size="30.2" text-anchor="middle">HFD</text>
<text x="1250.5" y="1674" font-size="29" text-anchor="middle" transform="rotate(-90 1250.5 1674)" dy="10.44"><tspan>Relative </tspan><tspan font-style="italic">Pri-miR-802</tspan><tspan> level</tspan></text>
<text x="830.2" y="693.2" font-size="41.5" font-weight="bold">f</text>
<line x1="953.5" y1="727.28" x2="953.5" y2="1184.4" stroke="#0d0d0d" stroke-width="4"/>
<line x1="940.5" y1="729.28" x2="953.5" y2="729.28" stroke="#0d0d0d" stroke-width="4"/>
<text x="930.5" y="738.58" font-size="30" text-anchor="end">12.0</text>
<line x1="940.5" y1="785.92" x2="953.5" y2="785.92" stroke="#0d0d0d" stroke-width="4"/>
<text x="930.5" y="795.22" font-size="30" text-anchor="end">10.5</text>
<line x1="940.5" y1="842.56" x2="953.5" y2="842.56" stroke="#0d0d0d" stroke-width="4"/>
<text x="930.5" y="851.86" font-size="30" text-anchor="end">9.0</text>
<line x1="940.5" y1="899.2" x2="953.5" y2="899.2" stroke="#0d0d0d" stroke-width="4"/>
<text x="930.5" y="908.5" font-size="30" text-anchor="end">7.5</text>
<line x1="940.5" y1="955.84" x2="953.5" y2="955.84" stroke="#0d0d0d" stroke-width="4"/>
<text x="930.5" y="965.14" font-size="30" text-anchor="end">6.0</text>
<line x1="940.5" y1="1012.48" x2="953.5" y2="1012.48" stroke="#0d0d0d" stroke-width="4"/>
<text x="930.5" y="1021.78" font-size="30" text-anchor="end">4.5</text>
<line x1="940.5" y1="1069.12" x2="953.5" y2="1069.12" stroke="#0d0d0d" stroke-width="4"/>
<text x="930.5" y="1078.42" font-size="30" text-anchor="end">3.0</text>
<line x1="940.5" y1="1125.76" x2="953.5" y2="1125.76" stroke="#0d0d0d" stroke-width="4"/>
<text x="930.5" y="1135.06" font-size="30" text-anchor="end">1.5</text>
<line x1="940.5" y1="1182.4" x2="953.5" y2="1182.4" stroke="#0d0d0d" stroke-width="4"/>
<text x="930.5" y="1191.7" font-size="30" text-anchor="end">0.0</text>
<rect x="966" y="681.5" width="43.4" height="17.8" fill="#cbcccd" stroke="#111" stroke-width="1.8"/>
<text x="1024.5" y="699.9" font-size="26">NCD</text>
<rect x="967" y="720.6" width="42.9" height="18.1" fill="#9c1319" stroke="#111" stroke-width="1.8"/>
<text x="1024.5" y="739.6" font-size="26">HFD</text>
<rect x="967" y="756.7" width="42.9" height="18.1" fill="#115221" stroke="#111" stroke-width="1.8"/>
<text x="1024.5" y="773.1" font-size="26">control</text>
<rect x="967.5" y="789" width="43.5" height="18.8" fill="#2a44a0" stroke="#111" stroke-width="1.8"/>
<text x="1024.5" y="808.2" font-size="26">Lepr<tspan font-size="17" dy="-11.7">db/db</tspan></text>
<text x="844.5" y="954.2" font-size="29" text-anchor="middle" transform="rotate(-90 844.5 954.2)" dy="10.44"><tspan>Relative </tspan><tspan font-style="italic">miR-802</tspan><tspan> level</tspan></text>
<rect x="965.75" y="1150.3" width="9.3" height="32.1" fill="#cbcccd" stroke="#5f6363" stroke-width="1.7"/>
<rect x="982.85" y="1146.53" width="9.3" height="35.87" fill="#a01419" stroke="#5f6363" stroke-width="1.7"/>
<rect x="999.95" y="1146.53" width="9.3" height="35.87" fill="#0f5020" stroke="#e3e3e3" stroke-width="1.7"/>
<rect x="1017.2" y="1146.53" width="8.8" height="35.87" fill="#2b45a0" stroke="#0d0d0d" stroke-width="2.2"/>
<line x1="996" y1="1182.4" x2="996" y2="1195.5" stroke="#0d0d0d" stroke-width="4"/>
<rect x="1044.59" y="1148.42" width="9.3" height="33.98" fill="#cbcccd" stroke="#5f6363" stroke-width="1.7"/>
<rect x="1061.69" y="1138.98" width="9.3" height="43.42" fill="#a01419" stroke="#5f6363" stroke-width="1.7"/>
<rect x="1078.79" y="1146.53" width="9.3" height="35.87" fill="#0f5020" stroke="#e3e3e3" stroke-width="1.7"/>
<rect x="1096.04" y="1137.09" width="8.8" height="45.31" fill="#2b45a0" stroke="#0d0d0d" stroke-width="2.2"/>
<line x1="1074.84" y1="1182.4" x2="1074.84" y2="1195.5" stroke="#0d0d0d" stroke-width="4"/>
<rect x="1123.43" y="1146.53" width="9.3" height="35.87" fill="#cbcccd" stroke="#5f6363" stroke-width="1.7"/>
<rect x="1140.53" y="1154.08" width="9.3" height="28.32" fill="#a01419" stroke="#5f6363" stroke-width="1.7"/>
<rect x="1157.63" y="1144.64" width="9.3" height="37.76" fill="#0f5020" stroke="#e3e3e3" stroke-width="1.7"/>
<rect x="1174.88" y="1133.31" width="8.8" height="49.09" fill="#2b45a0" stroke="#0d0d0d" stroke-width="2.2"/>
<line x1="1153.68" y1="1182.4" x2="1153.68" y2="1195.5" stroke="#0d0d0d" stroke-width="4"/>
<rect x="1202.27" y="1146.53" width="9.3" height="35.87" fill="#cbcccd" stroke="#5f6363" stroke-width="1.7"/>
<rect x="1219.37" y="1148.42" width="9.3" height="33.98" fill="#a01419" stroke="#5f6363" stroke-width="1.7"/>
<rect x="1236.47" y="1146.53" width="9.3" height="35.87" fill="#0f5020" stroke="#e3e3e3" stroke-width="1.7"/>
<rect x="1253.72" y="1144.64" width="8.8" height="37.76" fill="#2b45a0" stroke="#0d0d0d" stroke-width="2.2"/>
<line x1="1232.52" y1="1182.4" x2="1232.52" y2="1195.5" stroke="#0d0d0d" stroke-width="4"/>
<rect x="1281.11" y="1150.3" width="9.3" height="32.1" fill="#cbcccd" stroke="#5f6363" stroke-width="1.7"/>
<rect x="1298.21" y="1114.43" width="9.3" height="67.97" fill="#a01419" stroke="#5f6363" stroke-width="1.7"/>
<rect x="1315.31" y="1146.53" width="9.3" height="35.87" fill="#0f5020" stroke="#e3e3e3" stroke-width="1.7"/>
<rect x="1332.56" y="1014.37" width="8.8" height="168.03" fill="#2b45a0" stroke="#0d0d0d" stroke-width="2.2"/>
<line x1="1311.36" y1="1182.4" x2="1311.36" y2="1195.5" stroke="#0d0d0d" stroke-width="4"/>
<rect x="1359.95" y="1148.42" width="9.3" height="33.98" fill="#cbcccd" stroke="#5f6363" stroke-width="1.7"/>
<rect x="1377.05" y="1138.98" width="9.3" height="43.42" fill="#a01419" stroke="#5f6363" stroke-width="1.7"/>
<rect x="1394.15" y="1146.53" width="9.3" height="35.87" fill="#0f5020" stroke="#e3e3e3" stroke-width="1.7"/>
<rect x="1411.4" y="1018.14" width="8.8" height="164.26" fill="#2b45a0" stroke="#0d0d0d" stroke-width="2.2"/>
<line x1="1390.2" y1="1182.4" x2="1390.2" y2="1195.5" stroke="#0d0d0d" stroke-width="4"/>
<rect x="1438.79" y="1148.42" width="9.3" height="33.98" fill="#cbcccd" stroke="#5f6363" stroke-width="1.7"/>
<rect x="1455.89" y="1137.09" width="9.3" height="45.31" fill="#a01419" stroke="#5f6363" stroke-width="1.7"/>
<rect x="1472.99" y="1146.53" width="9.3" height="35.87" fill="#0f5020" stroke="#e3e3e3" stroke-width="1.7"/>
<rect x="1490.24" y="1063.46" width="8.8" height="118.94" fill="#2b45a0" stroke="#0d0d0d" stroke-width="2.2"/>
<line x1="1469.04" y1="1182.4" x2="1469.04" y2="1195.5" stroke="#0d0d0d" stroke-width="4"/>
<rect x="1517.63" y="1144.64" width="9.3" height="37.76" fill="#cbcccd" stroke="#5f6363" stroke-width="1.7"/>
<rect x="1534.73" y="1103.1" width="9.3" height="79.3" fill="#a01419" stroke="#5f6363" stroke-width="1.7"/>
<rect x="1551.83" y="1146.53" width="9.3" height="35.87" fill="#0f5020" stroke="#e3e3e3" stroke-width="1.7"/>
<rect x="1569.08" y="966.41" width="8.8" height="215.99" fill="#2b45a0" stroke="#0d0d0d" stroke-width="2.2"/>
<line x1="1547.88" y1="1182.4" x2="1547.88" y2="1195.5" stroke="#0d0d0d" stroke-width="4"/>
<rect x="1596.47" y="1148.42" width="9.3" height="33.98" fill="#cbcccd" stroke="#5f6363" stroke-width="1.7"/>
<rect x="1613.57" y="1133.31" width="9.3" height="49.09" fill="#a01419" stroke="#5f6363" stroke-width="1.7"/>
<rect x="1630.67" y="1146.53" width="9.3" height="35.87" fill="#0f5020" stroke="#e3e3e3" stroke-width="1.7"/>
<rect x="1647.92" y="769.68" width="8.8" height="412.72" fill="#2b45a0" stroke="#0d0d0d" stroke-width="2.2"/>
<line x1="1626.72" y1="1182.4" x2="1626.72" y2="1195.5" stroke="#0d0d0d" stroke-width="4"/>
<line x1="941" y1="1182.4" x2="1670" y2="1182.4" stroke="#0d0d0d" stroke-width="4"/>
<line x1="1652.5" y1="748.5" x2="1652.5" y2="790" stroke="#0d0d0d" stroke-width="3"/>
<line x1="1650.5" y1="748.3" x2="1656" y2="748.3" stroke="#0d0d0d" stroke-width="4"/>
<line x1="970.4" y1="1133.5" x2="970.4" y2="1150.5" stroke="#0d0d0d" stroke-width="2.6"/>
<line x1="1004.6" y1="1140.7" x2="1004.6" y2="1147.2" stroke="#0d0d0d" stroke-width="2.6"/>
<line x1="1021.6" y1="1140.7" x2="1021.6" y2="1145.6" stroke="#0d0d0d" stroke-width="2.6"/>
<line x1="1049.24" y1="1144" x2="1049.24" y2="1150.5" stroke="#0d0d0d" stroke-width="2.6"/>
<line x1="1066.34" y1="1128.3" x2="1066.34" y2="1142.3" stroke="#0d0d0d" stroke-width="2.6"/>
<line x1="1083.44" y1="1144" x2="1083.44" y2="1148.9" stroke="#0d0d0d" stroke-width="2.6"/>
<line x1="1100.44" y1="1132.5" x2="1100.44" y2="1137.4" stroke="#0d0d0d" stroke-width="2.6"/>
<line x1="1128.08" y1="1140.7" x2="1128.08" y2="1152.1" stroke="#0d0d0d" stroke-width="2.6"/>
<line x1="1162.28" y1="1137.4" x2="1162.28" y2="1148.9" stroke="#0d0d0d" stroke-width="2.6"/>
<line x1="1179.28" y1="1124.3" x2="1179.28" y2="1140.7" stroke="#0d0d0d" stroke-width="2.6"/>
<line x1="1206.92" y1="1140.7" x2="1206.92" y2="1148.9" stroke="#0d0d0d" stroke-width="2.6"/>
<line x1="1224.02" y1="1144" x2="1224.02" y2="1150.5" stroke="#0d0d0d" stroke-width="2.6"/>
<line x1="1258.12" y1="1140.7" x2="1258.12" y2="1146" stroke="#0d0d0d" stroke-width="2.6"/>
<line x1="1285.76" y1="1139.5" x2="1285.76" y2="1147.7" stroke="#0d0d0d" stroke-width="2.6"/>
<line x1="1302.86" y1="1106.4" x2="1302.86" y2="1114.6" stroke="#0d0d0d" stroke-width="2.6"/>
<line x1="1336.96" y1="999.8" x2="1336.96" y2="1021.6" stroke="#0d0d0d" stroke-width="2.6"/>
<line x1="1364.6" y1="1140.3" x2="1364.6" y2="1147.7" stroke="#0d0d0d" stroke-width="2.6"/>
<line x1="1415.8" y1="1007" x2="1415.8" y2="1020.7" stroke="#0d0d0d" stroke-width="2.6"/>
<line x1="1443.44" y1="1143.8" x2="1443.44" y2="1149" stroke="#0d0d0d" stroke-width="2.6"/>
<line x1="1460.54" y1="1126.6" x2="1460.54" y2="1140.8" stroke="#0d0d0d" stroke-width="2.6"/>
<line x1="1494.64" y1="1060.8" x2="1494.64" y2="1069.9" stroke="#0d0d0d" stroke-width="2.6"/>
<line x1="1539.38" y1="1098" x2="1539.38" y2="1102.2" stroke="#0d0d0d" stroke-width="2.6"/>
<line x1="1556.48" y1="1142.3" x2="1556.48" y2="1147" stroke="#0d0d0d" stroke-width="2.6"/>
<line x1="1573.48" y1="962" x2="1573.48" y2="975.7" stroke="#0d0d0d" stroke-width="2.6"/>
<line x1="1618.22" y1="1125.7" x2="1618.22" y2="1136.9" stroke="#0d0d0d" stroke-width="2.6"/>
<line x1="1652.32" y1="753.7" x2="1652.32" y2="787.6" stroke="#0d0d0d" stroke-width="2.6"/>
<circle cx="970.5" cy="1133.5" r="4.2" fill="#fff" stroke="#0d0d0d" stroke-width="4.4"/>
<circle cx="967.9" cy="1150.5" r="4.2" fill="#fff" stroke="#0d0d0d" stroke-width="4.4"/>
<circle cx="977" cy="1150.5" r="4.2" fill="#fff" stroke="#0d0d0d" stroke-width="4.4"/>
<circle cx="986.8" cy="1142.3" r="4.2" fill="#fff" stroke="#0d0d0d" stroke-width="4.4"/>
<circle cx="988.5" cy="1145.6" r="4.2" fill="#fff" stroke="#0d0d0d" stroke-width="4.4"/>
<circle cx="1004.2" cy="1140.7" r="4.2" fill="#fff" stroke="#0d0d0d" stroke-width="4.4"/>
<circle cx="1004.8" cy="1147.2" r="4.2" fill="#fff" stroke="#0d0d0d" stroke-width="4.4"/>
<circle cx="1020.5" cy="1140.7" r="4.2" fill="#fff" stroke="#0d0d0d" stroke-width="4.4"/>
<circle cx="1022.8" cy="1145.6" r="4.2" fill="#fff" stroke="#0d0d0d" stroke-width="4.4"/>
<circle cx="1049" cy="1144" r="4.2" fill="#fff" stroke="#0d0d0d" stroke-width="4.4"/>
<circle cx="1050" cy="1150.5" r="4.2" fill="#fff" stroke="#0d0d0d" stroke-width="4.4"/>
<circle cx="1066" cy="1128.3" r="4.2" fill="#fff" stroke="#0d0d0d" stroke-width="4.4"/>
<circle cx="1062.7" cy="1142.3" r="4.2" fill="#fff" stroke="#0d0d0d" stroke-width="4.4"/>
<circle cx="1072.5" cy="1140.7" r="4.2" fill="#fff" stroke="#0d0d0d" stroke-width="4.4"/>
<circle cx="1081.7" cy="1144" r="4.2" fill="#fff" stroke="#0d0d0d" stroke-width="4.4"/>
<circle cx="1083.3" cy="1148.9" r="4.2" fill="#fff" stroke="#0d0d0d" stroke-width="4.4"/>
<circle cx="1099.7" cy="1132.5" r="4.2" fill="#fff" stroke="#0d0d0d" stroke-width="4.4"/>
<circle cx="1101.3" cy="1137.4" r="4.2" fill="#fff" stroke="#0d0d0d" stroke-width="4.4"/>
<circle cx="1127.5" cy="1140.7" r="4.2" fill="#fff" stroke="#0d0d0d" stroke-width="4.4"/>
<circle cx="1127.5" cy="1152.1" r="4.2" fill="#fff" stroke="#0d0d0d" stroke-width="4.4"/>
<circle cx="1145.5" cy="1152.1" r="4.2" fill="#fff" stroke="#0d0d0d" stroke-width="4.4"/>
<circle cx="1161.2" cy="1137.4" r="4.2" fill="#fff" stroke="#0d0d0d" stroke-width="4.4"/>
<circle cx="1161.8" cy="1148.9" r="4.2" fill="#fff" stroke="#0d0d0d" stroke-width="4.4"/>
<circle cx="1179.8" cy="1124.3" r="4.2" fill="#fff" stroke="#0d0d0d" stroke-width="4.4"/>
<circle cx="1186.4" cy="1132.5" r="4.2" fill="#fff" stroke="#0d0d0d" stroke-width="4.4"/>
<circle cx="1176.6" cy="1140.7" r="4.2" fill="#fff" stroke="#0d0d0d" stroke-width="4.4"/>
<circle cx="1207" cy="1140.7" r="4.2" fill="#fff" stroke="#0d0d0d" stroke-width="4.4"/>
<circle cx="1207.6" cy="1148.9" r="4.2" fill="#fff" stroke="#0d0d0d" stroke-width="4.4"/>
<circle cx="1224" cy="1144" r="4.2" fill="#fff" stroke="#0d0d0d" stroke-width="4.4"/>
<circle cx="1224.6" cy="1150.5" r="4.2" fill="#fff" stroke="#0d0d0d" stroke-width="4.4"/>
<circle cx="1242" cy="1145.6" r="4.2" fill="#fff" stroke="#0d0d0d" stroke-width="4.4"/>
<circle cx="1258.3" cy="1140.7" r="4.2" fill="#fff" stroke="#0d0d0d" stroke-width="4.4"/>
<circle cx="1259" cy="1146" r="4.2" fill="#fff" stroke="#0d0d0d" stroke-width="4.4"/>
<circle cx="1285.6" cy="1139.5" r="4.2" fill="#fff" stroke="#0d0d0d" stroke-width="4.4"/>
<circle cx="1287.1" cy="1147.7" r="4.2" fill="#fff" stroke="#0d0d0d" stroke-width="4.4"/>
<circle cx="1302.5" cy="1106.4" r="4.2" fill="#fff" stroke="#0d0d0d" stroke-width="4.4"/>
<circle cx="1303.4" cy="1114.6" r="4.2" fill="#fff" stroke="#0d0d0d" stroke-width="4.4"/>
<circle cx="1319.6" cy="1143.4" r="4.2" fill="#fff" stroke="#0d0d0d" stroke-width="4.4"/>
<circle cx="1320.2" cy="1146" r="4.2" fill="#fff" stroke="#0d0d0d" stroke-width="4.4"/>
<circle cx="1337.1" cy="999.8" r="4.2" fill="#fff" stroke="#0d0d0d" stroke-width="4.4"/>
<circle cx="1343.8" cy="1010" r="4.2" fill="#fff" stroke="#0d0d0d" stroke-width="4.4"/>
<circle cx="1333.8" cy="1021.6" r="4.2" fill="#fff" stroke="#0d0d0d" stroke-width="4.4"/>
<circle cx="1364.5" cy="1140.3" r="4.2" fill="#fff" stroke="#0d0d0d" stroke-width="4.4"/>
<circle cx="1365.6" cy="1147.7" r="4.2" fill="#fff" stroke="#0d0d0d" stroke-width="4.4"/>
<circle cx="1382" cy="1138.3" r="4.2" fill="#fff" stroke="#0d0d0d" stroke-width="4.4"/>
<circle cx="1399" cy="1146" r="4.2" fill="#fff" stroke="#0d0d0d" stroke-width="4.4"/>
<circle cx="1416.3" cy="1007" r="4.2" fill="#fff" stroke="#0d0d0d" stroke-width="4.4"/>
<circle cx="1423" cy="1012.5" r="4.2" fill="#fff" stroke="#0d0d0d" stroke-width="4.4"/>
<circle cx="1413.2" cy="1020.7" r="4.2" fill="#fff" stroke="#0d0d0d" stroke-width="4.4"/>
<circle cx="1444" cy="1143.8" r="4.2" fill="#fff" stroke="#0d0d0d" stroke-width="4.4"/>
<circle cx="1443.4" cy="1149" r="4.2" fill="#fff" stroke="#0d0d0d" stroke-width="4.4"/>
<circle cx="1461.5" cy="1126.6" r="4.2" fill="#fff" stroke="#0d0d0d" stroke-width="4.4"/>
<circle cx="1468.2" cy="1130.3" r="4.2" fill="#fff" stroke="#0d0d0d" stroke-width="4.4"/>
<circle cx="1458.5" cy="1140.8" r="4.2" fill="#fff" stroke="#0d0d0d" stroke-width="4.4"/>
<circle cx="1478" cy="1144.4" r="4.2" fill="#fff" stroke="#0d0d0d" stroke-width="4.4"/>
<circle cx="1494.8" cy="1060.8" r="4.2" fill="#fff" stroke="#0d0d0d" stroke-width="4.4"/>
<circle cx="1495.4" cy="1069.9" r="4.2" fill="#fff" stroke="#0d0d0d" stroke-width="4.4"/>
<circle cx="1523.4" cy="1145.3" r="4.2" fill="#fff" stroke="#0d0d0d" stroke-width="4.4"/>
<circle cx="1540" cy="1098" r="4.2" fill="#fff" stroke="#0d0d0d" stroke-width="4.4"/>
<circle cx="1540.6" cy="1102.2" r="4.2" fill="#fff" stroke="#0d0d0d" stroke-width="4.4"/>
<circle cx="1556" cy="1142.3" r="4.2" fill="#fff" stroke="#0d0d0d" stroke-width="4.4"/>
<circle cx="1558" cy="1147" r="4.2" fill="#fff" stroke="#0d0d0d" stroke-width="4.4"/>
<circle cx="1573.3" cy="962" r="4.2" fill="#fff" stroke="#0d0d0d" stroke-width="4.4"/>
<circle cx="1575.4" cy="966.6" r="4.2" fill="#fff" stroke="#0d0d0d" stroke-width="4.4"/>
<circle cx="1573.9" cy="975.7" r="4.2" fill="#fff" stroke="#0d0d0d" stroke-width="4.4"/>
<circle cx="1602" cy="1143.8" r="4.2" fill="#fff" stroke="#0d0d0d" stroke-width="4.4"/>
<circle cx="1602.9" cy="1147.5" r="4.2" fill="#fff" stroke="#0d0d0d" stroke-width="4.4"/>
<circle cx="1618.6" cy="1125.7" r="4.2" fill="#fff" stroke="#0d0d0d" stroke-width="4.4"/>
<circle cx="1619.4" cy="1136.9" r="4.2" fill="#fff" stroke="#0d0d0d" stroke-width="4.4"/>
<circle cx="1636" cy="1145.3" r="4.2" fill="#fff" stroke="#0d0d0d" stroke-width="4.4"/>
<circle cx="1645.7" cy="753.7" r="4.2" fill="#fff" stroke="#0d0d0d" stroke-width="4.4"/>
<circle cx="1656.3" cy="762.5" r="4.2" fill="#fff" stroke="#0d0d0d" stroke-width="4.4"/>
<circle cx="1653.3" cy="787.6" r="4.2" fill="#fff" stroke="#0d0d0d" stroke-width="4.4"/>
<path d="M1273.7 1092.5V1082.9H1303.6V1092.5" fill="none" stroke="#0d0d0d" stroke-width="2.2"/>
<text x="1283.4" y="1075.9" font-size="16.3" text-anchor="middle"><tspan font-style="italic">p</tspan> &lt; 0.0001</text>
<path d="M1307.6 985.3V976.3H1339.9V985.3" fill="none" stroke="#0d0d0d" stroke-width="2.2"/>
<text x="1320.5" y="970.2" font-size="16.3" text-anchor="middle"><tspan font-style="italic">p</tspan> &lt; 0.0001</text>
<path d="M1389 997.4V987.4H1418.7V997.4" fill="none" stroke="#0d0d0d" stroke-width="2.2"/>
<text x="1401.9" y="982.3" font-size="16.3" text-anchor="middle"><tspan font-style="italic">p</tspan> &lt; 0.0001</text>
<path d="M1473 1024.6V1015.5H1495.7V1024.6" fill="none" stroke="#0d0d0d" stroke-width="2.2"/>
<text x="1478.9" y="1007.4" font-size="16.3" text-anchor="middle"><tspan font-style="italic">p</tspan> &lt; 0.0001</text>
<path d="M1518 1065.3V1055.7H1540V1065.3" fill="none" stroke="#0d0d0d" stroke-width="2.2"/>
<text x="1525.7" y="1047.2" font-size="16.3" text-anchor="middle"><tspan font-style="italic">p</tspan> &lt; 0.0001</text>
<path d="M1540 947.6V937.9H1574.2V947.6" fill="none" stroke="#0d0d0d" stroke-width="2.2"/>
<text x="1548" y="932.5" font-size="16.3" text-anchor="middle"><tspan font-style="italic">p</tspan> &lt; 0.0001</text>
<path d="M1599 893.2V883.6H1624.6V893.2" fill="none" stroke="#0d0d0d" stroke-width="2.2"/>
<text x="1603.4" y="877.5" font-size="16.3" text-anchor="middle"><tspan font-style="italic">p</tspan> = 0.0058</text>
<path d="M1620 745.3V735.6H1651.8V745.3" fill="none" stroke="#0d0d0d" stroke-width="2.2"/>
<text x="1634.5" y="729.6" font-size="16.3" text-anchor="middle"><tspan font-style="italic">p</tspan> &lt; 0.0001</text>
<text x="1010" y="1217.5" font-size="30" text-anchor="end" transform="rotate(-45 1010 1217.5)">heart</text>
<text x="1088.84" y="1217.5" font-size="30" text-anchor="end" transform="rotate(-45 1088.84 1217.5)">brain</text>
<text x="1167.68" y="1217.5" font-size="30" text-anchor="end" transform="rotate(-45 1167.68 1217.5)">spleen</text>
<text x="1246.52" y="1217.5" font-size="30" text-anchor="end" transform="rotate(-45 1246.52 1217.5)">muscle</text>
<text x="1325.36" y="1217.5" font-size="30" text-anchor="end" transform="rotate(-45 1325.36 1217.5)">kidney</text>
<text x="1404.2" y="1217.5" font-size="30" text-anchor="end" transform="rotate(-45 1404.2 1217.5)">WAT</text>
<text x="1483.04" y="1217.5" font-size="30" text-anchor="end" transform="rotate(-45 1483.04 1217.5)">BAT</text>
<text x="1561.88" y="1217.5" font-size="30" text-anchor="end" transform="rotate(-45 1561.88 1217.5)">islet</text>
<text x="1640.72" y="1217.5" font-size="30" text-anchor="end" transform="rotate(-45 1640.72 1217.5)">liver</text>
<text x="-0.8" y="1400.7" font-size="41.5" font-weight="bold">g</text>
<line x1="175.7" y1="1442.5" x2="175.7" y2="1655.6" stroke="#0d0d0d" stroke-width="4"/>
<line x1="175.7" y1="1689.6" x2="175.7" y2="1901.4" stroke="#0d0d0d" stroke-width="4"/>
<line x1="163.4" y1="1444.5" x2="175.7" y2="1444.5" stroke="#0d0d0d" stroke-width="4"/>
<text x="151" y="1455.3" font-size="30" text-anchor="end">300</text>
<line x1="163.4" y1="1516.2" x2="175.7" y2="1516.2" stroke="#0d0d0d" stroke-width="4"/>
<text x="151" y="1527" font-size="30" text-anchor="end">200</text>
<line x1="163.4" y1="1587.8" x2="175.7" y2="1587.8" stroke="#0d0d0d" stroke-width="4"/>
<text x="151" y="1598.6" font-size="30" text-anchor="end">100</text>
<line x1="163.4" y1="1689.6" x2="175.7" y2="1689.6" stroke="#0d0d0d" stroke-width="4"/>
<text x="151" y="1700.4" font-size="30" text-anchor="end">2</text>
<line x1="163.4" y1="1793.8" x2="175.7" y2="1793.8" stroke="#0d0d0d" stroke-width="4"/>
<text x="151" y="1804.6" font-size="30" text-anchor="end">1</text>
<line x1="163.4" y1="1899.4" x2="175.7" y2="1899.4" stroke="#0d0d0d" stroke-width="4"/>
<text x="151" y="1910.2" font-size="30" text-anchor="end">0</text>
<line x1="163.4" y1="1655.6" x2="187.7" y2="1655.6" stroke="#0d0d0d" stroke-width="4"/>
<line x1="163.4" y1="1689.6" x2="187.7" y2="1689.6" stroke="#0d0d0d" stroke-width="4"/>
<line x1="163.4" y1="1899.4" x2="500" y2="1899.4" stroke="#0d0d0d" stroke-width="4"/>
<line x1="270.3" y1="1899.4" x2="270.3" y2="1910.8" stroke="#0d0d0d" stroke-width="4"/>
<line x1="413.2" y1="1899.4" x2="413.2" y2="1910.8" stroke="#0d0d0d" stroke-width="4"/>
<text x="270.3" y="1946.8" font-size="30.2" text-anchor="middle">Lean</text>
<text x="411.7" y="1946.8" font-size="29" text-anchor="middle">Overweight</text>
<path d="M226.5 1442.6V1433.2H414.8V1442.6" fill="none" stroke="#0d0d0d" stroke-width="2"/>
<text x="321.8" y="1421.5" font-size="24.3" text-anchor="middle"><tspan font-style="italic">p</tspan> &lt; 0.0001</text>
<text x="34.9" y="1663" font-size="29" text-anchor="middle" transform="rotate(-90 34.9 1663)" dy="10.44">Relative <tspan font-style="italic">miR-802</tspan> level</text>
<text x="69.8" y="1663" font-size="29" text-anchor="middle" transform="rotate(-90 69.8 1663)" dy="10.44">(fold change)</text>
<line x1="239.9" y1="1748" x2="301.1" y2="1748" stroke="#a31d23" stroke-width="3.2"/>
<line x1="239.9" y1="1859.4" x2="301.1" y2="1859.4" stroke="#a31d23" stroke-width="3.2"/>
<circle cx="250.16" cy="1711.74" r="6.7" fill="#fff" stroke="#a31d23" stroke-width="4.6"/>
<circle cx="270.66" cy="1723.72" r="6.7" fill="#fff" stroke="#a31d23" stroke-width="4.6"/>
<circle cx="290.85" cy="1718.99" r="6.7" fill="#fff" stroke="#a31d23" stroke-width="4.6"/>
<circle cx="240.38" cy="1749.59" r="6.7" fill="#fff" stroke="#a31d23" stroke-width="4.6"/>
<circle cx="270.66" cy="1751.17" r="6.7" fill="#fff" stroke="#a31d23" stroke-width="4.6"/>
<circle cx="301.26" cy="1748.96" r="6.7" fill="#fff" stroke="#a31d23" stroke-width="4.6"/>
<circle cx="250.16" cy="1769.15" r="6.7" fill="#fff" stroke="#a31d23" stroke-width="4.6"/>
<circle cx="270.66" cy="1771.67" r="6.7" fill="#fff" stroke="#a31d23" stroke-width="4.6"/>
<circle cx="290.85" cy="1769.46" r="6.7" fill="#fff" stroke="#a31d23" stroke-width="4.6"/>
<circle cx="261.2" cy="1778.93" r="6.7" fill="#fff" stroke="#a31d23" stroke-width="4.6"/>
<circle cx="280.76" cy="1795.33" r="6.7" fill="#fff" stroke="#a31d23" stroke-width="4.6"/>
<circle cx="232.49" cy="1830.03" r="6.7" fill="#fff" stroke="#a31d23" stroke-width="4.6"/>
<circle cx="251.42" cy="1831.61" r="6.7" fill="#fff" stroke="#a31d23" stroke-width="4.6"/>
<circle cx="270.66" cy="1837.92" r="6.7" fill="#fff" stroke="#a31d23" stroke-width="4.6"/>
<circle cx="289.59" cy="1834.76" r="6.7" fill="#fff" stroke="#a31d23" stroke-width="4.6"/>
<circle cx="309.78" cy="1830.98" r="6.7" fill="#fff" stroke="#a31d23" stroke-width="4.6"/>
<circle cx="240.38" cy="1860" r="6.7" fill="#fff" stroke="#a31d23" stroke-width="4.6"/>
<circle cx="270.66" cy="1861.58" r="6.7" fill="#fff" stroke="#a31d23" stroke-width="4.6"/>
<circle cx="301.26" cy="1859.37" r="6.7" fill="#fff" stroke="#a31d23" stroke-width="4.6"/>
<circle cx="250.16" cy="1878.93" r="6.7" fill="#fff" stroke="#a31d23" stroke-width="4.6"/>
<circle cx="270.66" cy="1882.08" r="6.7" fill="#fff" stroke="#a31d23" stroke-width="4.6"/>
<circle cx="290.22" cy="1878.93" r="6.7" fill="#fff" stroke="#a31d23" stroke-width="4.6"/>
<line x1="270.5" y1="1748" x2="270.5" y2="1859.4" stroke="#a31d23" stroke-width="3.5"/>
<line x1="223.1" y1="1804" x2="317.7" y2="1804" stroke="#0d0d0d" stroke-width="3.6"/>
<line x1="366" y1="1608.7" x2="460.3" y2="1608.7" stroke="#0d0d0d" stroke-width="4"/>
<path d="M365 1623 H460.6 V1641 L449 1648.8 L434 1656.4 L421.5 1659.5 L409.2 1659.5 L397 1656.4 L381.8 1648.8 L365 1639.6 Z" fill="#1b7a36"/>
<rect x="406.3" y="1452.1" width="13.6" height="13.6" fill="none" stroke="#1b7a36" stroke-width="4.3"/>
<rect x="368.2" y="1500" width="13.6" height="13.6" fill="none" stroke="#1b7a36" stroke-width="4.3"/>
<rect x="387.3" y="1506.1" width="13.6" height="13.6" fill="none" stroke="#1b7a36" stroke-width="4.3"/>
<rect x="406.3" y="1515.1" width="13.6" height="13.6" fill="none" stroke="#1b7a36" stroke-width="4.3"/>
<rect x="425.2" y="1500.7" width="13.6" height="13.6" fill="none" stroke="#1b7a36" stroke-width="4.3"/>
<rect x="444.2" y="1499.2" width="13.6" height="13.6" fill="none" stroke="#1b7a36" stroke-width="4.3"/>
<rect x="370" y="1531.3" width="13.6" height="13.6" fill="none" stroke="#1b7a36" stroke-width="4.3"/>
<rect x="382.1" y="1539.4" width="13.6" height="13.6" fill="none" stroke="#1b7a36" stroke-width="4.3"/>
<rect x="394.5" y="1540.2" width="13.6" height="13.6" fill="none" stroke="#1b7a36" stroke-width="4.3"/>
<rect x="406.3" y="1543.7" width="13.6" height="13.6" fill="none" stroke="#1b7a36" stroke-width="4.3"/>
<rect x="418.2" y="1542.6" width="13.6" height="13.6" fill="none" stroke="#1b7a36" stroke-width="4.3"/>
<rect x="430.4" y="1539.1" width="13.6" height="13.6" fill="none" stroke="#1b7a36" stroke-width="4.3"/>
<rect x="442.5" y="1532.1" width="13.6" height="13.6" fill="none" stroke="#1b7a36" stroke-width="4.3"/>
<rect x="368.2" y="1559.7" width="13.6" height="13.6" fill="none" stroke="#1b7a36" stroke-width="4.3"/>
<rect x="387.3" y="1567.2" width="13.6" height="13.6" fill="none" stroke="#1b7a36" stroke-width="4.3"/>
<rect x="406.3" y="1568" width="13.6" height="13.6" fill="none" stroke="#1b7a36" stroke-width="4.3"/>
<rect x="425.2" y="1561.1" width="13.6" height="13.6" fill="none" stroke="#1b7a36" stroke-width="4.3"/>
<rect x="444.2" y="1553" width="13.6" height="13.6" fill="none" stroke="#1b7a36" stroke-width="4.3"/>
<rect x="395.2" y="1559.2" width="13.6" height="13.6" fill="none" stroke="#1b7a36" stroke-width="4.3"/>
<rect x="376" y="1588.2" width="13.6" height="13.6" fill="none" stroke="#1b7a36" stroke-width="4.3"/>
<rect x="394.5" y="1587.1" width="13.6" height="13.6" fill="none" stroke="#1b7a36" stroke-width="4.3"/>
<rect x="406.3" y="1583.6" width="13.6" height="13.6" fill="none" stroke="#1b7a36" stroke-width="4.3"/>
<rect x="418.8" y="1582.5" width="13.6" height="13.6" fill="none" stroke="#1b7a36" stroke-width="4.3"/>
<rect x="436.2" y="1588.2" width="13.6" height="13.6" fill="none" stroke="#1b7a36" stroke-width="4.3"/>
<rect x="406.2" y="1575.2" width="13.6" height="13.6" fill="none" stroke="#1b7a36" stroke-width="4.3"/>
<rect x="369" y="1606.8" width="13.6" height="13.6" fill="none" stroke="#1b7a36" stroke-width="4.3"/>
<rect x="443.1" y="1607.9" width="13.6" height="13.6" fill="none" stroke="#1b7a36" stroke-width="4.3"/>
<rect x="388.2" y="1603.2" width="13.6" height="13.6" fill="none" stroke="#1b7a36" stroke-width="4.3"/>
<rect x="423.2" y="1605.2" width="13.6" height="13.6" fill="none" stroke="#1b7a36" stroke-width="4.3"/>
<rect x="406.2" y="1597.2" width="13.6" height="13.6" fill="none" stroke="#1b7a36" stroke-width="4.3"/>
<text x="581.2" y="1402.7" font-size="41.5" font-weight="bold">h</text>
<line x1="714" y1="1399.5" x2="714" y2="1899.8" stroke="#0d0d0d" stroke-width="1.8"/>
<line x1="713.1" y1="1899.8" x2="1082.4" y2="1899.8" stroke="#0d0d0d" stroke-width="1.8"/>
<line x1="707" y1="1423.5" x2="714" y2="1423.5" stroke="#0d0d0d" stroke-width="1.8"/>
<text x="695.5" y="1434.3" font-size="30" text-anchor="end">3</text>
<line x1="707" y1="1536.4" x2="714" y2="1536.4" stroke="#0d0d0d" stroke-width="1.8"/>
<text x="695.5" y="1547.2" font-size="30" text-anchor="end">2</text>
<line x1="707" y1="1650" x2="714" y2="1650" stroke="#0d0d0d" stroke-width="1.8"/>
<text x="695.5" y="1660.8" font-size="30" text-anchor="end">1</text>
<line x1="707" y1="1762.3" x2="714" y2="1762.3" stroke="#0d0d0d" stroke-width="1.8"/>
<text x="695.5" y="1773.1" font-size="30" text-anchor="end">0</text>
<line x1="707" y1="1875.9" x2="714" y2="1875.9" stroke="#0d0d0d" stroke-width="1.8"/>
<text x="695.5" y="1886.7" font-size="30" text-anchor="end">−1</text>
<line x1="732.3" y1="1899.8" x2="732.3" y2="1908.7" stroke="#0d0d0d" stroke-width="1.8"/>
<text x="733.3" y="1941.5" font-size="30" text-anchor="middle">1.2</text>
<line x1="815.2" y1="1899.8" x2="815.2" y2="1908.7" stroke="#0d0d0d" stroke-width="1.8"/>
<line x1="898.9" y1="1899.8" x2="898.9" y2="1908.7" stroke="#0d0d0d" stroke-width="1.8"/>
<text x="899.9" y="1941.5" font-size="30" text-anchor="middle">1.4</text>
<line x1="981.1" y1="1899.8" x2="981.1" y2="1908.7" stroke="#0d0d0d" stroke-width="1.8"/>
<line x1="1064.7" y1="1899.8" x2="1064.7" y2="1908.7" stroke="#0d0d0d" stroke-width="1.8"/>
<text x="1065.7" y="1941.5" font-size="30" text-anchor="middle">1.6</text>
<text x="901.7" y="1979.3" font-size="29" text-anchor="middle">log (BMI)</text>
<text x="594.4" y="1649.3" font-size="29" text-anchor="middle" transform="rotate(-90 594.4 1649.3)" dy="10.44">Realative expression of <tspan font-style="italic">miR-802</tspan></text>
<text x="629.6" y="1651.5" font-size="29" text-anchor="middle" transform="rotate(-90 629.6 1651.5)" dy="10.44">(log fold change)</text>
<line x1="714" y1="1868.8" x2="1084.5" y2="1457" stroke="#111" stroke-width="1.9"/>
<text x="774.7" y="1497.6" font-size="24"><tspan font-style="italic">R</tspan><tspan font-size="15" dy="-11">2</tspan><tspan dy="11"> = 0.778</tspan></text>
<text x="775.4" y="1536.4" font-size="24" text-anchor="start"><tspan font-style="italic">p</tspan> &lt; 0.0001</text>
<ellipse cx="868" cy="1399.8" rx="5.75" ry="6.8" fill="#f0f0f0" stroke="#e31b2e" stroke-width="4.6"/>
<text x="887" y="1407.7" font-size="25.6">Lean</text>
<rect x="995.95" y="1392.8" width="11.1" height="13.4" fill="#f0eeee" stroke="#139250" stroke-width="4.1"/>
<text x="1018.5" y="1407.7" font-size="25.3">Overweight</text>
<ellipse cx="795.83" cy="1738.26" rx="3.05" ry="3.85" fill="#f2f2f2" stroke="#e8323e" stroke-width="2.4"/>
<ellipse cx="821.24" cy="1736.5" rx="3.05" ry="3.85" fill="#f2f2f2" stroke="#e8323e" stroke-width="2.4"/>
<ellipse cx="838.88" cy="1734.74" rx="3.05" ry="3.85" fill="#f2f2f2" stroke="#e8323e" stroke-width="2.4"/>
<ellipse cx="781.71" cy="1751.67" rx="3.05" ry="3.85" fill="#f2f2f2" stroke="#e8323e" stroke-width="2.4"/>
<ellipse cx="821.24" cy="1745.67" rx="3.05" ry="3.85" fill="#f2f2f2" stroke="#e8323e" stroke-width="2.4"/>
<ellipse cx="821.24" cy="1755.2" rx="3.05" ry="3.85" fill="#f2f2f2" stroke="#e8323e" stroke-width="2.4"/>
<ellipse cx="824.76" cy="1752.38" rx="3.05" ry="3.85" fill="#f2f2f2" stroke="#e8323e" stroke-width="2.4"/>
<ellipse cx="852.29" cy="1745.32" rx="3.05" ry="3.85" fill="#f2f2f2" stroke="#e8323e" stroke-width="2.4"/>
<ellipse cx="802.89" cy="1762.96" rx="3.05" ry="3.85" fill="#f2f2f2" stroke="#e8323e" stroke-width="2.4"/>
<ellipse cx="819.82" cy="1789.43" rx="3.05" ry="3.85" fill="#f2f2f2" stroke="#e8323e" stroke-width="2.4"/>
<ellipse cx="841" cy="1784.49" rx="3.05" ry="3.85" fill="#f2f2f2" stroke="#e8323e" stroke-width="2.4"/>
<ellipse cx="844.52" cy="1784.49" rx="3.05" ry="3.85" fill="#f2f2f2" stroke="#e8323e" stroke-width="2.4"/>
<ellipse cx="872.75" cy="1787.66" rx="3.05" ry="3.85" fill="#f2f2f2" stroke="#e8323e" stroke-width="2.4"/>
<ellipse cx="766.19" cy="1813.42" rx="3.05" ry="3.85" fill="#f2f2f2" stroke="#e8323e" stroke-width="2.4"/>
<ellipse cx="869.93" cy="1811.66" rx="3.05" ry="3.85" fill="#f2f2f2" stroke="#e8323e" stroke-width="2.4"/>
<ellipse cx="891.1" cy="1814.48" rx="3.05" ry="3.85" fill="#f2f2f2" stroke="#e8323e" stroke-width="2.4"/>
<ellipse cx="795.83" cy="1846.94" rx="3.05" ry="3.85" fill="#f2f2f2" stroke="#e8323e" stroke-width="2.4"/>
<ellipse cx="824.76" cy="1847.65" rx="3.05" ry="3.85" fill="#f2f2f2" stroke="#e8323e" stroke-width="2.4"/>
<ellipse cx="838.88" cy="1855.77" rx="3.05" ry="3.85" fill="#f2f2f2" stroke="#e8323e" stroke-width="2.4"/>
<rect x="912" y="1482.67" width="6.2" height="7.3" fill="#f2f0f0" stroke="#139250" stroke-width="2.5"/>
<rect x="938.11" y="1496.43" width="6.2" height="7.3" fill="#f2f0f0" stroke="#139250" stroke-width="2.5"/>
<rect x="985.04" y="1495.73" width="6.2" height="7.3" fill="#f2f0f0" stroke="#139250" stroke-width="2.5"/>
<rect x="1017.5" y="1498.55" width="6.2" height="7.3" fill="#f2f0f0" stroke="#139250" stroke-width="2.5"/>
<rect x="927.87" y="1508.08" width="6.2" height="7.3" fill="#f2f0f0" stroke="#139250" stroke-width="2.5"/>
<rect x="937.4" y="1501.02" width="6.2" height="7.3" fill="#f2f0f0" stroke="#139250" stroke-width="2.5"/>
<rect x="938.11" y="1511.61" width="6.2" height="7.3" fill="#f2f0f0" stroke="#139250" stroke-width="2.5"/>
<rect x="962.1" y="1507.37" width="6.2" height="7.3" fill="#f2f0f0" stroke="#139250" stroke-width="2.5"/>
<rect x="973.39" y="1510.9" width="6.2" height="7.3" fill="#f2f0f0" stroke="#139250" stroke-width="2.5"/>
<rect x="995.62" y="1510.9" width="6.2" height="7.3" fill="#f2f0f0" stroke="#139250" stroke-width="2.5"/>
<rect x="946.22" y="1517.96" width="6.2" height="7.3" fill="#f2f0f0" stroke="#139250" stroke-width="2.5"/>
<rect x="949.75" y="1520.43" width="6.2" height="7.3" fill="#f2f0f0" stroke="#139250" stroke-width="2.5"/>
<rect x="962.1" y="1520.43" width="6.2" height="7.3" fill="#f2f0f0" stroke="#139250" stroke-width="2.5"/>
<rect x="912" y="1526.43" width="6.2" height="7.3" fill="#f2f0f0" stroke="#139250" stroke-width="2.5"/>
<rect x="938.11" y="1525.02" width="6.2" height="7.3" fill="#f2f0f0" stroke="#139250" stroke-width="2.5"/>
<rect x="899.29" y="1544.07" width="6.2" height="7.3" fill="#f2f0f0" stroke="#139250" stroke-width="2.5"/>
<rect x="942.69" y="1539.13" width="6.2" height="7.3" fill="#f2f0f0" stroke="#139250" stroke-width="2.5"/>
<rect x="985.04" y="1539.84" width="6.2" height="7.3" fill="#f2f0f0" stroke="#139250" stroke-width="2.5"/>
<rect x="986.1" y="1544.07" width="6.2" height="7.3" fill="#f2f0f0" stroke="#139250" stroke-width="2.5"/>
<rect x="1017.5" y="1535.6" width="6.2" height="7.3" fill="#f2f0f0" stroke="#139250" stroke-width="2.5"/>
<rect x="1027.38" y="1542.66" width="6.2" height="7.3" fill="#f2f0f0" stroke="#139250" stroke-width="2.5"/>
<rect x="946.22" y="1550.42" width="6.2" height="7.3" fill="#f2f0f0" stroke="#139250" stroke-width="2.5"/>
<rect x="985.04" y="1549.72" width="6.2" height="7.3" fill="#f2f0f0" stroke="#139250" stroke-width="2.5"/>
<rect x="1006.21" y="1549.01" width="6.2" height="7.3" fill="#f2f0f0" stroke="#139250" stroke-width="2.5"/>
<rect x="962.1" y="1556.77" width="6.2" height="7.3" fill="#f2f0f0" stroke="#139250" stroke-width="2.5"/>
<rect x="999.15" y="1555.71" width="6.2" height="7.3" fill="#f2f0f0" stroke="#139250" stroke-width="2.5"/>
<rect x="914.47" y="1570.53" width="6.2" height="7.3" fill="#f2f0f0" stroke="#139250" stroke-width="2.5"/>
<rect x="962.1" y="1567.36" width="6.2" height="7.3" fill="#f2f0f0" stroke="#139250" stroke-width="2.5"/>
<rect x="986.1" y="1567.36" width="6.2" height="7.3" fill="#f2f0f0" stroke="#139250" stroke-width="2.5"/>
<rect x="996.68" y="1568.06" width="6.2" height="7.3" fill="#f2f0f0" stroke="#139250" stroke-width="2.5"/>
<rect x="949.75" y="1573.36" width="6.2" height="7.3" fill="#f2f0f0" stroke="#139250" stroke-width="2.5"/>
<rect x="951.52" y="1576.89" width="6.2" height="7.3" fill="#f2f0f0" stroke="#139250" stroke-width="2.5"/>
<rect x="942.69" y="1580.41" width="6.2" height="7.3" fill="#f2f0f0" stroke="#139250" stroke-width="2.5"/>
<rect x="951.52" y="1582.18" width="6.2" height="7.3" fill="#f2f0f0" stroke="#139250" stroke-width="2.5"/>
<rect x="962.1" y="1579.36" width="6.2" height="7.3" fill="#f2f0f0" stroke="#139250" stroke-width="2.5"/>
<rect x="996.68" y="1578.65" width="6.2" height="7.3" fill="#f2f0f0" stroke="#139250" stroke-width="2.5"/>
<rect x="949.75" y="1585" width="6.2" height="7.3" fill="#f2f0f0" stroke="#139250" stroke-width="2.5"/>
<rect x="923.99" y="1592.06" width="6.2" height="7.3" fill="#f2f0f0" stroke="#139250" stroke-width="2.5"/>
<rect x="929.29" y="1595.59" width="6.2" height="7.3" fill="#f2f0f0" stroke="#139250" stroke-width="2.5"/>
<rect x="938.11" y="1599.12" width="6.2" height="7.3" fill="#f2f0f0" stroke="#139250" stroke-width="2.5"/>
<rect x="946.22" y="1596.29" width="6.2" height="7.3" fill="#f2f0f0" stroke="#139250" stroke-width="2.5"/>
<rect x="985.04" y="1585.71" width="6.2" height="7.3" fill="#f2f0f0" stroke="#139250" stroke-width="2.5"/>
<rect x="986.1" y="1592.76" width="6.2" height="7.3" fill="#f2f0f0" stroke="#139250" stroke-width="2.5"/>
<rect x="985.04" y="1599.12" width="6.2" height="7.3" fill="#f2f0f0" stroke="#139250" stroke-width="2.5"/>
<rect x="993.15" y="1589.24" width="6.2" height="7.3" fill="#f2f0f0" stroke="#139250" stroke-width="2.5"/>
<rect x="1017.5" y="1588.53" width="6.2" height="7.3" fill="#f2f0f0" stroke="#139250" stroke-width="2.5"/>
<rect x="1029.14" y="1587.47" width="6.2" height="7.3" fill="#f2f0f0" stroke="#139250" stroke-width="2.5"/>
<rect x="1009.03" y="1597.35" width="6.2" height="7.3" fill="#f2f0f0" stroke="#139250" stroke-width="2.5"/>
<rect x="951.52" y="1607.59" width="6.2" height="7.3" fill="#f2f0f0" stroke="#139250" stroke-width="2.5"/>
<rect x="945.16" y="1612.17" width="6.2" height="7.3" fill="#f2f0f0" stroke="#139250" stroke-width="2.5"/>
<rect x="942.69" y="1618.17" width="6.2" height="7.3" fill="#f2f0f0" stroke="#139250" stroke-width="2.5"/>
<rect x="946.22" y="1622.76" width="6.2" height="7.3" fill="#f2f0f0" stroke="#139250" stroke-width="2.5"/>
<rect x="951.52" y="1624.52" width="6.2" height="7.3" fill="#f2f0f0" stroke="#139250" stroke-width="2.5"/>
<rect x="962.1" y="1624.52" width="6.2" height="7.3" fill="#f2f0f0" stroke="#139250" stroke-width="2.5"/>
<rect x="985.04" y="1618.17" width="6.2" height="7.3" fill="#f2f0f0" stroke="#139250" stroke-width="2.5"/>
<rect x="987.51" y="1620.29" width="6.2" height="7.3" fill="#f2f0f0" stroke="#139250" stroke-width="2.5"/>
<rect x="999.15" y="1615" width="6.2" height="7.3" fill="#f2f0f0" stroke="#139250" stroke-width="2.5"/>
<rect x="1010.44" y="1611.11" width="6.2" height="7.3" fill="#f2f0f0" stroke="#139250" stroke-width="2.5"/>
<rect x="1037.26" y="1615.7" width="6.2" height="7.3" fill="#f2f0f0" stroke="#139250" stroke-width="2.5"/>
<rect x="1027.38" y="1624.52" width="6.2" height="7.3" fill="#f2f0f0" stroke="#139250" stroke-width="2.5"/>
<rect x="936.7" y="1630.87" width="6.2" height="7.3" fill="#f2f0f0" stroke="#139250" stroke-width="2.5"/>
<rect x="944.46" y="1633.34" width="6.2" height="7.3" fill="#f2f0f0" stroke="#139250" stroke-width="2.5"/>
<rect x="951.52" y="1628.05" width="6.2" height="7.3" fill="#f2f0f0" stroke="#139250" stroke-width="2.5"/>
<rect x="925.76" y="1640.4" width="6.2" height="7.3" fill="#f2f0f0" stroke="#139250" stroke-width="2.5"/>
<rect x="951.52" y="1639.7" width="6.2" height="7.3" fill="#f2f0f0" stroke="#139250" stroke-width="2.5"/>
<rect x="989.62" y="1636.17" width="6.2" height="7.3" fill="#f2f0f0" stroke="#139250" stroke-width="2.5"/>
</svg></body></html>
